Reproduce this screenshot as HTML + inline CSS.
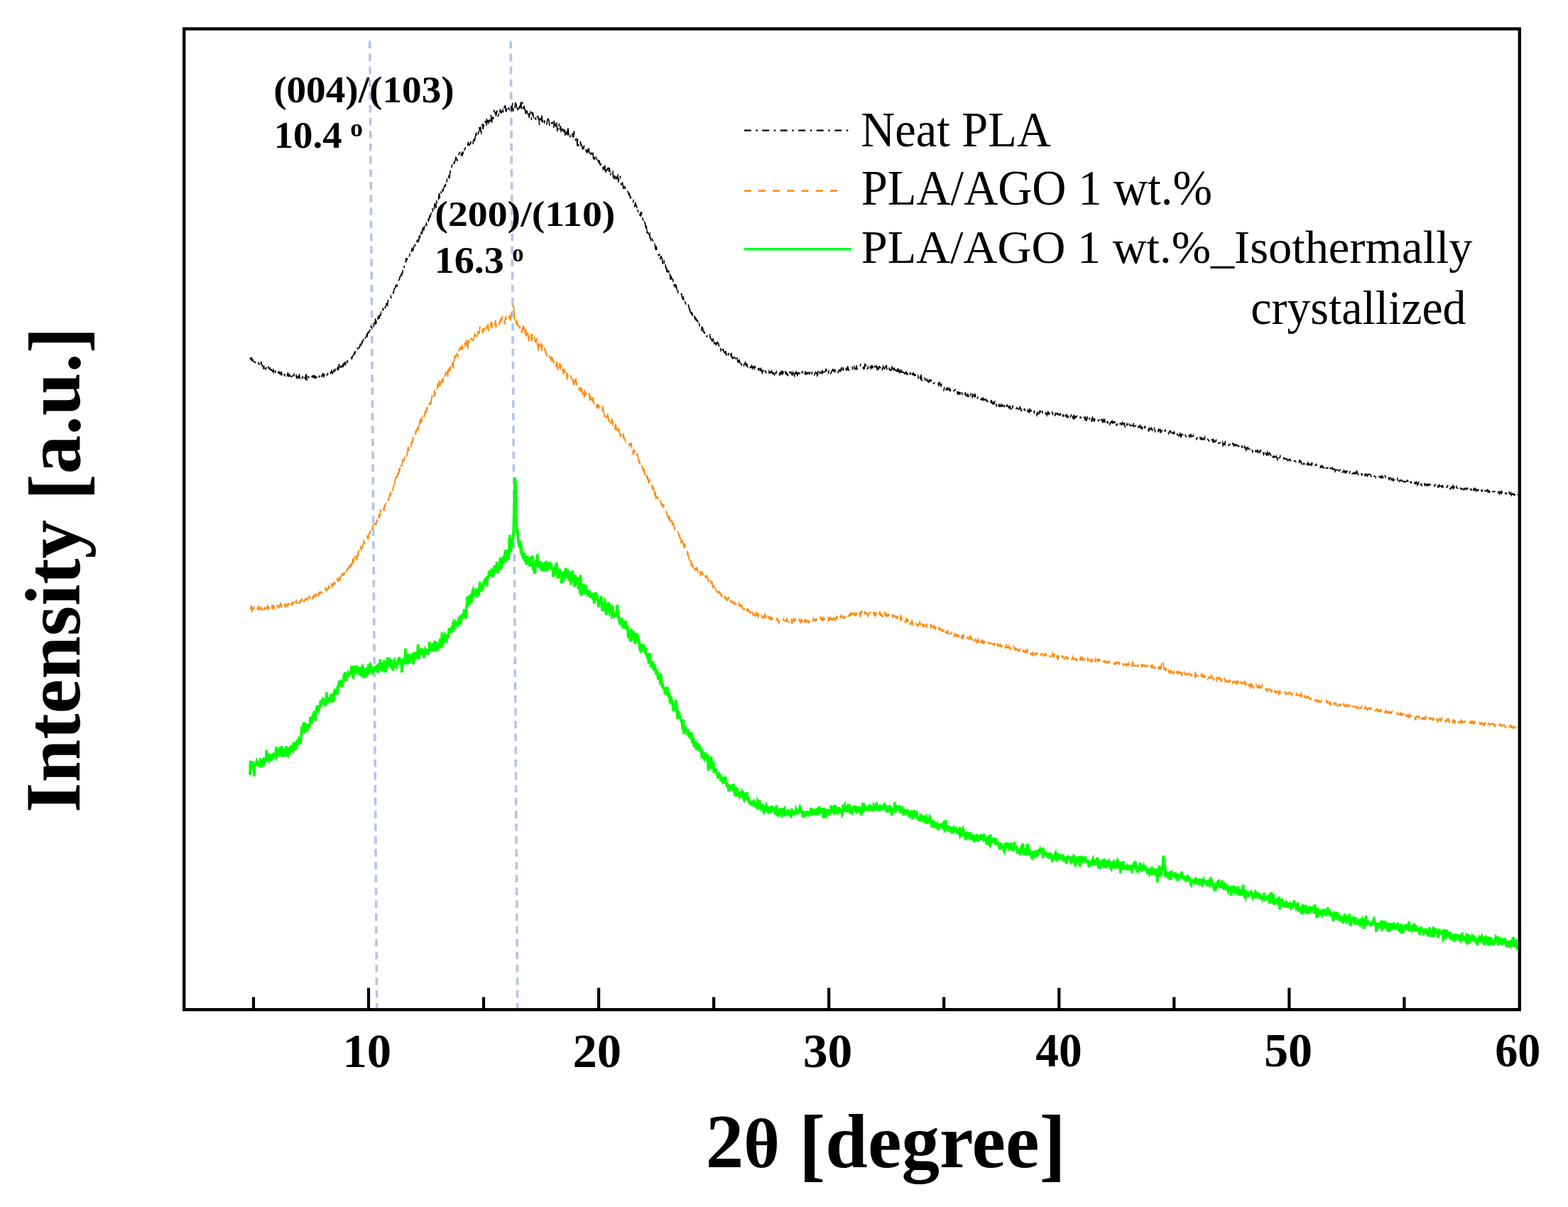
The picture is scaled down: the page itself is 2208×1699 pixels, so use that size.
<!DOCTYPE html>
<html><head><meta charset="utf-8"><style>html,body{margin:0;padding:0;background:#fff;overflow:hidden;width:2208px;height:1699px;}svg{display:block;}</style></head>
<body><svg width="2208" height="1699" viewBox="0 0 2208 1699">
<rect x="0" y="0" width="2208" height="1699" fill="#fff"/>
<g stroke="#b2c5ec" stroke-width="3.6" stroke-dasharray="10.5 7.56" fill="none">
<line x1="520.7" y1="57.6" x2="530.7" y2="1420"/>
<line x1="719.2" y1="57.6" x2="728.7" y2="1420"/>
</g>
<path d="M352.0 1090.7L352.6 1070.8L353.3 1083.2L353.9 1078.7L354.6 1078.8L355.2 1079.5L355.9 1071.4L356.5 1078.7L357.2 1075.6L357.8 1093.0L358.5 1079.4L359.1 1076.5L359.8 1076.3L360.4 1074.2L361.1 1072.1L361.7 1074.5L362.4 1077.7L363.0 1074.2L363.7 1078.9L364.3 1073.4L365.0 1074.0L365.6 1080.1L366.3 1075.4L366.9 1070.4L367.6 1071.5L368.2 1074.2L368.9 1079.9L369.5 1070.0L370.2 1069.7L370.8 1074.8L371.5 1066.3L372.1 1068.5L372.8 1073.2L373.4 1071.6L374.1 1069.2L374.7 1071.3L375.4 1055.9L376.0 1072.2L376.7 1063.3L377.3 1059.9L378.0 1068.1L378.6 1069.6L379.3 1064.3L379.9 1061.3L380.6 1065.8L381.2 1065.1L381.9 1071.2L382.5 1068.1L383.2 1065.4L383.8 1069.1L384.5 1063.1L385.1 1059.7L385.8 1066.0L386.4 1065.7L387.1 1061.9L387.7 1059.2L388.4 1063.4L389.0 1051.2L389.7 1064.9L390.3 1063.7L391.0 1054.2L391.6 1061.4L392.3 1056.6L392.9 1063.9L393.6 1051.5L394.2 1056.2L394.9 1063.0L395.5 1064.8L396.2 1050.1L396.8 1057.1L397.5 1060.6L398.1 1056.3L398.8 1065.8L399.4 1053.4L400.1 1060.0L400.7 1053.7L401.4 1064.3L402.0 1057.9L402.7 1056.2L403.3 1050.1L404.0 1064.9L404.6 1060.6L405.3 1060.4L405.9 1061.9L406.6 1058.2L407.2 1053.6L407.9 1052.6L408.5 1052.3L409.2 1061.6L409.8 1048.8L410.5 1052.2L411.1 1053.0L411.8 1054.9L412.4 1056.0L413.1 1047.4L413.7 1044.7L414.4 1051.7L415.0 1056.4L415.7 1053.7L416.3 1050.6L417.0 1047.5L417.6 1049.3L418.3 1045.7L418.9 1049.2L419.6 1040.5L420.2 1043.1L420.9 1040.4L421.5 1041.8L422.2 1038.7L422.8 1047.6L423.5 1041.3L424.1 1039.9L424.8 1022.5L425.4 1029.1L426.1 1026.8L426.7 1031.1L427.4 1017.2L428.0 1032.1L428.7 1030.7L429.3 1019.0L430.0 1019.6L430.6 1019.6L431.3 1022.7L431.9 1024.6L432.6 1030.3L433.2 1019.1L433.9 1022.7L434.5 1019.0L435.2 1025.6L435.8 1020.0L436.5 1021.9L437.1 1009.6L437.8 1012.7L438.4 1008.7L439.1 1018.5L439.7 1013.5L440.4 1007.9L441.0 1006.2L441.7 1009.5L442.3 1002.9L443.0 1000.7L443.6 1006.4L444.3 1014.7L444.9 1001.0L445.6 998.6L446.2 994.7L446.9 993.0L447.5 1001.0L448.2 1001.6L448.8 996.7L449.5 997.4L450.1 995.5L450.8 994.7L451.4 985.9L452.1 990.2L452.7 992.1L453.4 987.1L454.0 987.8L454.7 985.4L455.3 987.0L456.0 992.0L456.6 985.3L457.3 985.9L457.9 990.0L458.6 988.6L459.2 993.1L459.9 974.3L460.5 988.1L461.2 981.1L461.8 983.7L462.5 986.6L463.1 987.4L463.8 986.7L464.4 982.0L465.1 988.6L465.7 978.9L466.4 979.1L467.0 983.2L467.7 976.1L468.3 988.8L469.0 982.6L469.6 987.7L470.3 976.3L470.9 973.8L471.6 975.7L472.2 977.6L472.9 970.2L473.5 974.0L474.2 971.0L474.8 977.9L475.5 965.6L476.1 973.0L476.8 963.5L477.4 960.8L478.1 961.0L478.7 957.6L479.4 963.2L480.0 966.7L480.7 961.5L481.3 963.0L482.0 967.3L482.6 959.8L483.3 958.7L483.9 955.6L484.6 948.2L485.2 959.4L485.9 946.1L486.5 957.5L487.2 953.6L487.8 958.7L488.5 952.1L489.1 947.7L489.8 953.1L490.4 948.0L491.1 949.4L491.7 950.1L492.4 948.8L493.0 948.1L493.7 944.5L494.3 947.5L495.0 937.4L495.6 947.1L496.3 941.6L496.9 953.0L497.6 953.6L498.2 937.0L498.9 947.4L499.5 945.8L500.2 941.0L500.8 948.8L501.5 943.5L502.1 936.7L502.8 944.2L503.4 944.6L504.1 945.7L504.7 938.8L505.4 948.0L506.0 948.4L506.7 938.7L507.3 941.0L508.0 943.8L508.6 941.1L509.3 952.7L509.9 944.7L510.6 938.4L511.2 939.3L511.9 942.9L512.5 954.6L513.2 941.9L513.8 943.2L514.5 945.0L515.1 942.0L515.8 953.6L516.4 939.0L517.1 945.3L517.7 942.1L518.4 944.3L519.0 934.9L519.7 949.7L520.3 939.9L521.0 940.5L521.6 935.3L522.3 936.2L522.9 942.6L523.6 944.6L524.2 943.2L524.9 945.3L525.5 942.6L526.2 939.0L526.8 942.9L527.5 941.5L528.1 937.9L528.8 942.0L529.4 944.7L530.1 939.2L530.7 936.1L531.4 941.5L532.0 947.4L532.7 936.6L533.3 937.1L534.0 936.8L534.6 943.7L535.3 928.0L535.9 939.2L536.6 943.4L537.2 933.1L537.9 944.9L538.5 940.0L539.2 934.4L539.8 938.2L540.5 929.3L541.1 934.2L541.8 946.4L542.4 932.4L543.1 946.4L543.7 936.5L544.4 942.0L545.0 937.1L545.7 925.4L546.3 933.9L547.0 937.8L547.6 930.9L548.3 929.8L548.9 938.5L549.6 933.3L550.2 927.9L550.9 933.0L551.5 940.9L552.2 934.0L552.8 941.1L553.5 944.0L554.1 936.3L554.8 930.2L555.4 929.2L556.1 935.6L556.7 940.0L557.4 936.7L558.0 937.9L558.7 932.6L559.3 936.2L560.0 931.9L560.6 932.4L561.3 927.2L561.9 925.4L562.6 930.7L563.2 927.2L563.9 927.6L564.5 935.7L565.2 931.4L565.8 946.6L566.5 936.0L567.1 927.6L567.8 934.5L568.4 932.0L569.1 926.2L569.7 935.1L570.4 925.0L571.0 912.9L571.7 932.4L572.3 924.7L573.0 935.3L573.6 923.8L574.3 920.7L574.9 934.5L575.6 920.6L576.2 926.9L576.9 933.0L577.5 925.7L578.2 924.4L578.8 925.1L579.5 928.6L580.1 919.7L580.8 926.8L581.4 926.4L582.1 935.2L582.7 921.1L583.4 917.8L584.0 926.1L584.7 920.0L585.3 923.3L586.0 922.2L586.6 927.4L587.3 917.6L587.9 920.3L588.6 907.2L589.2 915.7L589.9 928.1L590.5 916.3L591.2 915.9L591.8 913.0L592.5 922.1L593.1 919.7L593.8 912.3L594.4 921.8L595.1 919.4L595.7 921.7L596.4 914.1L597.0 926.3L597.7 919.1L598.3 916.0L599.0 913.6L599.6 914.8L600.3 920.3L600.9 914.0L601.6 920.8L602.2 917.9L602.9 921.5L603.5 918.4L604.2 913.5L604.8 903.4L605.5 914.6L606.1 916.8L606.8 913.2L607.4 914.9L608.1 909.0L608.7 909.1L609.4 905.7L610.0 917.5L610.7 910.7L611.3 906.8L612.0 902.0L612.6 907.7L613.3 915.7L613.9 910.1L614.6 903.3L615.2 914.3L615.9 913.8L616.5 910.9L617.2 909.4L617.8 910.9L618.5 907.1L619.1 907.8L619.8 899.1L620.4 910.7L621.1 903.4L621.7 912.4L622.4 890.2L623.0 904.3L623.7 905.2L624.3 897.6L625.0 901.2L625.6 902.3L626.3 900.8L626.9 894.2L627.6 895.7L628.2 901.4L628.9 902.1L629.5 895.2L630.2 894.4L630.8 894.5L631.5 898.3L632.1 886.4L632.8 884.2L633.4 891.3L634.1 884.0L634.7 886.0L635.4 888.9L636.0 890.3L636.7 881.2L637.3 890.5L638.0 875.8L638.6 887.6L639.3 875.2L639.9 876.1L640.6 885.7L641.2 879.1L641.9 876.1L642.5 877.2L643.2 881.3L643.8 877.6L644.5 876.8L645.1 881.8L645.8 871.2L646.4 871.6L647.1 870.3L647.7 878.6L648.4 876.5L649.0 877.0L649.7 868.6L650.3 866.8L651.0 871.2L651.6 863.1L652.3 868.6L652.9 866.8L653.6 857.6L654.2 859.8L654.9 858.3L655.5 867.4L656.2 870.9L656.8 854.6L657.5 853.9L658.1 839.7L658.8 852.5L659.4 850.0L660.1 842.7L660.7 852.0L661.4 837.5L662.0 844.0L662.7 844.8L663.3 835.8L664.0 846.7L664.6 846.7L665.3 831.8L665.9 830.6L666.6 841.1L667.2 836.6L667.9 828.9L668.5 833.3L669.2 833.5L669.8 832.4L670.5 837.1L671.1 833.7L671.8 840.9L672.4 837.8L673.1 833.0L673.7 834.5L674.4 835.1L675.0 830.8L675.7 818.8L676.3 830.1L677.0 824.8L677.6 833.0L678.3 823.3L678.9 825.1L679.6 823.2L680.2 830.3L680.9 820.7L681.5 817.4L682.2 819.9L682.8 814.8L683.5 817.5L684.1 815.7L684.8 816.6L685.4 825.4L686.1 811.0L686.7 812.8L687.4 810.6L688.0 815.0L688.7 803.3L689.3 805.4L690.0 808.5L690.6 811.2L691.3 806.9L691.9 803.5L692.6 800.5L693.2 807.9L693.9 812.7L694.5 805.3L695.2 803.8L695.8 804.6L696.5 795.7L697.1 798.7L697.8 798.3L698.4 801.0L699.1 798.4L699.7 790.7L700.4 804.0L701.0 806.8L701.7 794.5L702.3 797.9L703.0 796.5L703.6 798.9L704.3 784.8L704.9 802.6L705.6 789.4L706.2 799.1L706.9 791.2L707.5 787.6L708.2 788.3L708.8 793.6L709.5 782.2L710.1 784.2L710.8 782.6L711.4 774.2L712.1 791.4L712.7 786.1L713.4 781.4L714.0 787.6L714.7 773.7L715.3 778.0L716.0 787.8L716.6 782.1L717.3 761.3L717.9 753.2L718.6 765.9L719.2 777.5L719.9 767.2L720.5 767.9L721.2 771.5L721.8 759.4L722.5 759.2L723.1 748.8L723.8 724.6L724.4 698.0L725.1 672.3L725.7 676.4L726.4 685.9L727.0 721.2L727.7 751.8L728.3 746.3L729.0 744.8L729.6 758.3L730.3 764.1L730.9 768.7L731.6 770.3L732.2 760.9L732.9 763.4L733.5 778.7L734.2 766.9L734.8 782.3L735.5 775.8L736.1 783.4L736.8 784.5L737.4 786.4L738.1 788.0L738.7 778.3L739.4 787.1L740.0 786.3L740.7 788.7L741.3 794.9L742.0 786.4L742.6 784.3L743.3 784.7L743.9 787.6L744.6 794.4L745.2 785.4L745.9 797.6L746.5 792.8L747.2 790.0L747.8 783.7L748.5 793.4L749.1 796.4L749.8 781.9L750.4 799.8L751.1 802.8L751.7 795.1L752.4 796.2L753.0 807.9L753.7 801.0L754.3 788.4L755.0 793.8L755.6 793.1L756.3 793.2L756.9 780.1L757.6 798.9L758.2 790.6L758.9 795.5L759.5 793.8L760.2 800.0L760.8 793.1L761.5 790.2L762.1 798.2L762.8 803.6L763.4 793.4L764.1 803.6L764.7 797.1L765.4 792.5L766.0 805.0L766.7 791.2L767.3 802.3L768.0 793.5L768.6 799.4L769.3 789.6L769.9 792.3L770.6 803.9L771.2 799.0L771.9 798.5L772.5 796.0L773.2 801.6L773.8 791.0L774.5 793.0L775.1 799.1L775.8 795.5L776.4 796.7L777.1 800.8L777.7 800.7L778.4 800.6L779.0 812.1L779.7 808.6L780.3 810.2L781.0 803.1L781.6 800.5L782.3 795.2L782.9 801.9L783.6 791.9L784.2 801.0L784.9 809.1L785.5 814.4L786.2 810.7L786.8 800.1L787.5 808.2L788.1 800.8L788.8 810.5L789.4 805.1L790.1 811.0L790.7 821.3L791.4 811.7L792.0 820.2L792.7 807.7L793.3 804.9L794.0 814.9L794.6 817.4L795.3 804.1L795.9 808.1L796.6 799.4L797.2 807.0L797.9 813.7L798.5 808.3L799.2 805.8L799.8 801.3L800.5 812.2L801.1 815.2L801.8 814.6L802.4 813.1L803.1 804.7L803.7 823.2L804.4 813.1L805.0 813.3L805.7 819.1L806.3 802.8L807.0 815.8L807.6 816.0L808.3 819.7L808.9 826.1L809.6 821.6L810.2 808.9L810.9 818.2L811.5 822.0L812.2 822.3L812.8 814.6L813.5 812.9L814.1 826.3L814.8 825.6L815.4 824.1L816.1 814.7L816.7 835.5L817.4 809.0L818.0 824.2L818.7 838.9L819.3 826.4L820.0 829.2L820.6 821.5L821.3 836.7L821.9 821.9L822.6 831.3L823.2 831.1L823.9 824.8L824.5 836.5L825.2 823.7L825.8 828.4L826.5 832.7L827.1 831.0L827.8 836.6L828.4 839.7L829.1 833.3L829.7 832.4L830.4 833.0L831.0 834.4L831.7 841.7L832.3 836.3L833.0 840.4L833.6 838.1L834.3 834.3L834.9 844.6L835.6 834.3L836.2 840.7L836.9 849.7L837.5 835.5L838.2 842.0L838.8 833.8L839.5 840.4L840.1 835.4L840.8 842.3L841.4 841.8L842.1 846.2L842.7 854.9L843.4 848.1L844.0 850.7L844.7 847.2L845.3 846.6L846.0 843.8L846.6 838.9L847.3 849.9L847.9 859.3L848.6 853.3L849.2 848.1L849.9 860.9L850.5 849.7L851.2 849.1L851.8 846.3L852.5 848.2L853.1 852.8L853.8 865.9L854.4 854.0L855.1 849.9L855.7 852.8L856.4 855.5L857.0 847.7L857.7 858.5L858.3 862.3L859.0 860.7L859.6 862.8L860.3 852.8L860.9 851.1L861.6 868.3L862.2 867.7L862.9 853.6L863.5 863.8L864.2 863.4L864.8 866.8L865.5 865.5L866.1 862.1L866.8 866.5L867.4 866.8L868.1 866.2L868.7 856.8L869.4 851.1L870.0 863.9L870.7 859.8L871.3 870.9L872.0 874.1L872.6 872.2L873.3 869.4L873.9 872.5L874.6 879.3L875.2 869.6L875.9 879.4L876.5 879.1L877.2 877.5L877.8 885.0L878.5 874.1L879.1 884.1L879.8 874.9L880.4 876.9L881.1 876.3L881.7 885.6L882.4 879.1L883.0 885.5L883.7 880.1L884.3 893.1L885.0 898.2L885.6 890.4L886.3 899.0L886.9 894.0L887.6 903.4L888.2 893.1L888.9 884.8L889.5 902.0L890.2 894.0L890.8 889.8L891.5 892.6L892.1 888.0L892.8 896.5L893.4 892.4L894.1 906.7L894.7 903.1L895.4 891.4L896.0 892.9L896.7 898.7L897.3 892.2L898.0 902.6L898.6 903.8L899.3 900.6L899.9 902.6L900.6 908.9L901.2 914.6L901.9 915.8L902.5 908.9L903.2 914.1L903.8 906.5L904.5 913.5L905.1 907.2L905.8 917.0L906.4 907.6L907.1 910.1L907.7 916.2L908.4 920.3L909.0 911.1L909.7 917.0L910.3 921.8L911.0 923.5L911.6 919.2L912.3 925.3L912.9 924.6L913.6 934.4L914.2 931.2L914.9 922.6L915.5 919.3L916.2 932.3L916.8 939.0L917.5 935.0L918.1 939.8L918.8 933.9L919.4 930.6L920.1 942.6L920.7 940.4L921.4 944.5L922.0 935.2L922.7 944.3L923.3 941.4L924.0 949.8L924.6 943.9L925.3 945.0L925.9 946.2L926.6 956.7L927.2 951.7L927.9 948.9L928.5 948.8L929.2 949.9L929.8 963.6L930.5 948.5L931.1 954.5L931.8 963.1L932.4 967.0L933.1 961.6L933.7 967.5L934.4 968.6L935.0 970.9L935.7 967.5L936.3 976.7L937.0 970.8L937.6 978.6L938.3 966.9L938.9 978.2L939.6 968.7L940.2 968.8L940.9 979.8L941.5 974.6L942.2 982.1L942.8 976.0L943.5 990.2L944.1 983.7L944.8 979.5L945.4 987.1L946.1 991.8L946.7 985.1L947.4 992.6L948.0 1001.2L948.7 996.9L949.3 994.0L950.0 992.7L950.6 999.5L951.3 990.9L951.9 985.0L952.6 997.6L953.2 997.0L953.9 1011.8L954.5 1005.5L955.2 1001.6L955.8 1002.1L956.5 1011.3L957.1 1006.4L957.8 1008.8L958.4 1012.4L959.1 1014.6L959.7 1015.9L960.4 1017.2L961.0 1023.9L961.7 1027.0L962.3 1012.6L963.0 1033.3L963.6 1023.1L964.3 1029.3L964.9 1021.3L965.6 1027.2L966.2 1027.8L966.9 1028.3L967.5 1032.7L968.2 1032.7L968.8 1026.3L969.5 1031.3L970.1 1036.1L970.8 1036.9L971.4 1033.2L972.1 1034.4L972.7 1035.9L973.4 1032.5L974.0 1032.6L974.7 1046.4L975.3 1038.5L976.0 1041.6L976.6 1038.8L977.3 1048.9L977.9 1051.8L978.6 1043.9L979.2 1048.2L979.9 1043.4L980.5 1055.6L981.2 1052.8L981.8 1045.9L982.5 1056.1L983.1 1053.0L983.8 1054.2L984.4 1054.9L985.1 1051.2L985.7 1052.7L986.4 1058.8L987.0 1056.7L987.7 1053.7L988.3 1067.7L989.0 1058.7L989.6 1058.1L990.3 1058.4L990.9 1065.4L991.6 1067.5L992.2 1065.2L992.9 1068.8L993.5 1059.4L994.2 1065.2L994.8 1065.7L995.5 1068.7L996.1 1071.7L996.8 1061.7L997.4 1084.9L998.1 1068.6L998.7 1074.7L999.4 1077.7L1000.0 1078.8L1000.7 1077.1L1001.3 1064.6L1002.0 1073.3L1002.6 1082.1L1003.3 1075.9L1003.9 1076.3L1004.6 1071.7L1005.2 1087.8L1005.9 1085.8L1006.5 1080.7L1007.2 1084.9L1007.8 1085.9L1008.5 1082.5L1009.1 1086.9L1009.8 1090.0L1010.4 1092.1L1011.1 1095.9L1011.7 1091.6L1012.4 1090.3L1013.0 1094.7L1013.7 1091.1L1014.3 1089.3L1015.0 1100.0L1015.6 1094.4L1016.3 1097.2L1016.9 1100.2L1017.6 1093.6L1018.2 1101.6L1018.9 1101.5L1019.5 1099.9L1020.2 1102.7L1020.8 1098.6L1021.5 1093.3L1022.1 1101.9L1022.8 1100.0L1023.4 1107.9L1024.1 1106.1L1024.7 1103.4L1025.4 1106.4L1026.0 1112.3L1026.7 1112.0L1027.3 1109.4L1028.0 1110.2L1028.6 1107.9L1029.3 1109.0L1029.9 1112.4L1030.6 1110.0L1031.2 1112.2L1031.9 1106.8L1032.5 1105.0L1033.2 1105.3L1033.8 1110.9L1034.5 1118.4L1035.1 1118.2L1035.8 1109.8L1036.4 1107.9L1037.1 1117.8L1037.7 1116.8L1038.4 1109.7L1039.0 1119.9L1039.7 1116.7L1040.3 1121.7L1041.0 1118.1L1041.6 1120.6L1042.3 1118.7L1042.9 1113.9L1043.6 1117.2L1044.2 1115.8L1044.9 1122.2L1045.5 1115.3L1046.2 1113.5L1046.8 1122.9L1047.5 1125.2L1048.1 1126.8L1048.8 1125.8L1049.4 1115.9L1050.1 1119.6L1050.7 1120.7L1051.4 1123.3L1052.0 1115.2L1052.7 1124.3L1053.3 1125.9L1054.0 1121.5L1054.6 1126.3L1055.3 1131.1L1055.9 1127.0L1056.6 1131.5L1057.2 1131.8L1057.9 1129.9L1058.5 1130.2L1059.2 1127.7L1059.8 1134.5L1060.5 1128.1L1061.1 1127.6L1061.8 1133.6L1062.4 1128.3L1063.1 1133.2L1063.7 1136.0L1064.4 1132.5L1065.0 1132.9L1065.7 1136.4L1066.3 1136.1L1067.0 1127.3L1067.6 1128.5L1068.3 1139.2L1068.9 1135.8L1069.6 1126.4L1070.2 1129.6L1070.9 1135.2L1071.5 1131.6L1072.2 1137.5L1072.8 1136.2L1073.5 1138.1L1074.1 1131.8L1074.8 1139.1L1075.4 1144.6L1076.1 1134.0L1076.7 1142.5L1077.4 1141.4L1078.0 1140.3L1078.7 1137.7L1079.3 1133.6L1080.0 1134.9L1080.6 1141.5L1081.3 1142.5L1081.9 1143.6L1082.6 1142.8L1083.2 1142.7L1083.9 1137.7L1084.5 1134.9L1085.2 1140.6L1085.8 1141.9L1086.5 1140.5L1087.1 1134.4L1087.8 1138.5L1088.4 1134.9L1089.1 1141.4L1089.7 1136.9L1090.4 1140.5L1091.0 1142.6L1091.7 1142.0L1092.3 1147.0L1093.0 1137.5L1093.6 1133.4L1094.3 1145.7L1094.9 1147.7L1095.6 1147.9L1096.2 1143.6L1096.9 1144.7L1097.5 1143.2L1098.2 1137.8L1098.8 1140.7L1099.5 1144.9L1100.1 1140.8L1100.8 1150.5L1101.4 1137.2L1102.1 1141.5L1102.7 1147.6L1103.4 1140.9L1104.0 1138.9L1104.7 1138.0L1105.3 1140.5L1106.0 1149.2L1106.6 1144.9L1107.3 1145.3L1107.9 1141.3L1108.6 1146.6L1109.2 1143.7L1109.9 1139.8L1110.5 1141.6L1111.2 1144.1L1111.8 1147.9L1112.5 1143.1L1113.1 1145.3L1113.8 1151.2L1114.4 1140.2L1115.1 1138.5L1115.7 1147.1L1116.4 1145.0L1117.0 1143.0L1117.7 1144.4L1118.3 1142.1L1119.0 1145.3L1119.6 1142.0L1120.3 1146.4L1120.9 1138.8L1121.6 1140.2L1122.2 1143.8L1122.9 1141.5L1123.5 1146.0L1124.2 1143.2L1124.8 1141.2L1125.5 1144.2L1126.1 1141.3L1126.8 1137.3L1127.4 1138.9L1128.1 1140.2L1128.7 1141.5L1129.4 1143.7L1130.0 1146.9L1130.7 1145.5L1131.3 1150.3L1132.0 1148.3L1132.6 1142.6L1133.3 1149.8L1133.9 1148.0L1134.6 1141.6L1135.2 1144.6L1135.9 1147.6L1136.5 1144.3L1137.2 1147.3L1137.8 1144.9L1138.5 1146.1L1139.1 1142.1L1139.8 1144.9L1140.4 1142.0L1141.1 1146.0L1141.7 1136.8L1142.4 1144.7L1143.0 1148.2L1143.7 1145.6L1144.3 1143.3L1145.0 1145.5L1145.6 1140.1L1146.3 1140.2L1146.9 1142.0L1147.6 1142.8L1148.2 1147.1L1148.9 1139.9L1149.5 1147.3L1150.2 1137.3L1150.8 1140.3L1151.5 1143.2L1152.1 1147.8L1152.8 1140.9L1153.4 1135.0L1154.1 1144.9L1154.7 1143.1L1155.4 1139.0L1156.0 1139.1L1156.7 1140.4L1157.3 1143.4L1158.0 1145.5L1158.6 1137.2L1159.3 1151.7L1159.9 1142.6L1160.6 1141.3L1161.2 1145.2L1161.9 1143.0L1162.5 1151.6L1163.2 1146.7L1163.8 1140.9L1164.5 1140.7L1165.1 1140.2L1165.8 1140.7L1166.4 1144.6L1167.1 1139.4L1167.7 1148.1L1168.4 1141.4L1169.0 1141.0L1169.7 1145.2L1170.3 1133.7L1171.0 1137.7L1171.6 1143.6L1172.3 1141.2L1172.9 1141.0L1173.6 1142.6L1174.2 1138.6L1174.9 1140.2L1175.5 1135.5L1176.2 1133.4L1176.8 1145.6L1177.5 1136.9L1178.1 1137.7L1178.8 1145.9L1179.4 1144.5L1180.1 1138.2L1180.7 1138.1L1181.4 1139.8L1182.0 1136.3L1182.7 1142.1L1183.3 1140.4L1184.0 1140.3L1184.6 1142.6L1185.3 1142.4L1185.9 1146.7L1186.6 1145.4L1187.2 1132.7L1187.9 1142.8L1188.5 1134.8L1189.2 1133.5L1189.8 1141.8L1190.5 1136.2L1191.1 1137.6L1191.8 1143.0L1192.4 1136.1L1193.1 1135.1L1193.7 1139.8L1194.4 1143.3L1195.0 1140.5L1195.7 1132.3L1196.3 1135.7L1197.0 1137.6L1197.6 1145.7L1198.3 1141.6L1198.9 1141.4L1199.6 1142.7L1200.2 1136.8L1200.9 1139.8L1201.5 1139.8L1202.2 1134.1L1202.8 1137.8L1203.5 1140.1L1204.1 1133.6L1204.8 1141.0L1205.4 1140.8L1206.1 1141.9L1206.7 1134.8L1207.4 1138.3L1208.0 1143.5L1208.7 1141.0L1209.3 1134.8L1210.0 1138.7L1210.6 1143.4L1211.3 1137.5L1211.9 1139.3L1212.6 1147.9L1213.2 1137.7L1213.9 1137.4L1214.5 1133.9L1215.2 1135.3L1215.8 1143.7L1216.5 1137.3L1217.1 1133.2L1217.8 1134.2L1218.4 1137.9L1219.1 1140.8L1219.7 1134.9L1220.4 1140.6L1221.0 1135.9L1221.7 1139.2L1222.3 1139.8L1223.0 1140.2L1223.6 1136.1L1224.3 1137.1L1224.9 1139.8L1225.6 1132.7L1226.2 1138.4L1226.9 1139.8L1227.5 1141.8L1228.2 1137.6L1228.8 1137.0L1229.5 1138.3L1230.1 1134.9L1230.8 1136.9L1231.4 1139.3L1232.1 1138.8L1232.7 1133.6L1233.4 1136.4L1234.0 1129.4L1234.7 1140.8L1235.3 1135.6L1236.0 1138.6L1236.6 1133.4L1237.3 1137.4L1237.9 1139.5L1238.6 1141.6L1239.2 1132.4L1239.9 1141.0L1240.5 1137.1L1241.2 1134.7L1241.8 1139.6L1242.5 1136.6L1243.1 1136.6L1243.8 1135.1L1244.4 1138.7L1245.1 1138.0L1245.7 1137.2L1246.4 1134.1L1247.0 1135.9L1247.7 1139.5L1248.3 1143.0L1249.0 1137.9L1249.6 1143.5L1250.3 1138.0L1250.9 1133.8L1251.6 1140.6L1252.2 1134.3L1252.9 1139.7L1253.5 1142.4L1254.2 1137.0L1254.8 1137.9L1255.5 1147.9L1256.1 1139.2L1256.8 1139.4L1257.4 1141.4L1258.1 1138.0L1258.7 1138.1L1259.4 1140.0L1260.0 1129.2L1260.7 1144.1L1261.3 1134.5L1262.0 1134.5L1262.6 1140.9L1263.3 1139.0L1263.9 1134.2L1264.6 1140.0L1265.2 1134.9L1265.9 1136.8L1266.5 1133.8L1267.2 1136.6L1267.8 1141.6L1268.5 1140.7L1269.1 1141.6L1269.8 1144.2L1270.4 1140.7L1271.1 1138.5L1271.7 1140.3L1272.4 1148.0L1273.0 1142.0L1273.7 1143.3L1274.3 1142.0L1275.0 1143.6L1275.6 1144.6L1276.3 1143.1L1276.9 1142.8L1277.6 1140.7L1278.2 1140.7L1278.9 1145.8L1279.5 1147.4L1280.2 1148.4L1280.8 1145.3L1281.5 1142.2L1282.1 1148.1L1282.8 1148.3L1283.4 1140.4L1284.1 1149.5L1284.7 1149.0L1285.4 1153.4L1286.0 1142.9L1286.7 1142.5L1287.3 1150.7L1288.0 1141.1L1288.6 1145.4L1289.3 1144.3L1289.9 1144.8L1290.6 1141.6L1291.2 1148.3L1291.9 1153.2L1292.5 1151.4L1293.2 1151.7L1293.8 1148.9L1294.5 1156.1L1295.1 1152.8L1295.8 1155.1L1296.4 1145.4L1297.1 1153.0L1297.7 1147.5L1298.4 1153.5L1299.0 1153.2L1299.7 1148.5L1300.3 1153.7L1301.0 1157.7L1301.6 1155.5L1302.3 1156.1L1302.9 1150.9L1303.6 1151.8L1304.2 1150.5L1304.9 1155.5L1305.5 1159.8L1306.2 1157.2L1306.8 1155.8L1307.5 1151.8L1308.1 1158.0L1308.8 1155.7L1309.4 1149.6L1310.1 1150.5L1310.7 1156.0L1311.4 1154.2L1312.0 1164.1L1312.7 1158.2L1313.3 1154.4L1314.0 1156.7L1314.6 1164.8L1315.3 1155.4L1315.9 1162.1L1316.6 1161.1L1317.2 1165.2L1317.9 1161.8L1318.5 1158.5L1319.2 1162.2L1319.8 1160.7L1320.5 1164.3L1321.1 1160.6L1321.8 1168.5L1322.4 1160.9L1323.1 1163.1L1323.7 1159.2L1324.4 1162.3L1325.0 1162.1L1325.7 1162.8L1326.3 1165.7L1327.0 1160.5L1327.6 1159.6L1328.3 1167.1L1328.9 1162.0L1329.6 1160.8L1330.2 1167.8L1330.9 1166.6L1331.5 1153.9L1332.2 1162.6L1332.8 1167.1L1333.5 1167.5L1334.1 1162.7L1334.8 1170.6L1335.4 1162.0L1336.1 1164.3L1336.7 1165.8L1337.4 1165.5L1338.0 1168.7L1338.7 1169.7L1339.3 1166.0L1340.0 1171.5L1340.6 1164.0L1341.3 1166.0L1341.9 1173.4L1342.6 1167.6L1343.2 1171.4L1343.9 1166.0L1344.5 1166.9L1345.2 1167.7L1345.8 1169.0L1346.5 1167.3L1347.1 1168.9L1347.8 1171.5L1348.4 1173.8L1349.1 1169.9L1349.7 1172.2L1350.4 1173.4L1351.0 1166.3L1351.7 1164.7L1352.3 1176.8L1353.0 1175.9L1353.6 1171.5L1354.3 1172.9L1354.9 1168.3L1355.6 1167.0L1356.2 1173.5L1356.9 1167.1L1357.5 1176.2L1358.2 1170.6L1358.8 1174.4L1359.5 1180.7L1360.1 1180.8L1360.8 1173.1L1361.4 1178.3L1362.1 1170.8L1362.7 1172.6L1363.4 1176.4L1364.0 1180.4L1364.7 1173.4L1365.3 1177.7L1366.0 1176.3L1366.6 1171.5L1367.3 1175.9L1367.9 1182.1L1368.6 1176.5L1369.2 1178.9L1369.9 1180.3L1370.5 1174.7L1371.2 1182.2L1371.8 1183.4L1372.5 1183.9L1373.1 1183.0L1373.8 1176.7L1374.4 1176.4L1375.1 1175.8L1375.7 1175.6L1376.4 1176.2L1377.0 1182.9L1377.7 1184.8L1378.3 1177.2L1379.0 1182.8L1379.6 1175.3L1380.3 1178.9L1380.9 1176.6L1381.6 1174.4L1382.2 1180.8L1382.9 1181.0L1383.5 1179.4L1384.2 1179.1L1384.8 1177.6L1385.5 1180.9L1386.1 1179.3L1386.8 1182.6L1387.4 1177.4L1388.1 1182.9L1388.7 1184.1L1389.4 1186.9L1390.0 1186.4L1390.7 1183.4L1391.3 1180.3L1392.0 1176.3L1392.6 1183.2L1393.3 1188.6L1393.9 1189.6L1394.6 1174.3L1395.2 1181.1L1395.9 1182.7L1396.5 1180.4L1397.2 1185.1L1397.8 1184.7L1398.5 1182.9L1399.1 1184.8L1399.8 1179.3L1400.4 1181.7L1401.1 1182.2L1401.7 1189.0L1402.4 1179.9L1403.0 1185.3L1403.7 1189.2L1404.3 1186.3L1405.0 1189.7L1405.6 1184.5L1406.3 1188.7L1406.9 1190.7L1407.6 1195.8L1408.2 1190.4L1408.9 1193.2L1409.5 1188.2L1410.2 1188.7L1410.8 1194.4L1411.5 1190.9L1412.1 1194.2L1412.8 1191.8L1413.4 1197.2L1414.1 1198.4L1414.7 1186.7L1415.4 1196.9L1416.0 1191.8L1416.7 1192.2L1417.3 1190.2L1418.0 1193.4L1418.6 1186.9L1419.3 1188.5L1419.9 1188.5L1420.6 1192.6L1421.2 1195.2L1421.9 1194.7L1422.5 1193.5L1423.2 1190.1L1423.8 1186.0L1424.5 1194.1L1425.1 1193.4L1425.8 1194.3L1426.4 1198.4L1427.1 1192.7L1427.7 1192.7L1428.4 1185.1L1429.0 1195.9L1429.7 1193.8L1430.3 1191.4L1431.0 1195.7L1431.6 1190.6L1432.3 1192.6L1432.9 1202.0L1433.6 1197.7L1434.2 1198.5L1434.9 1198.0L1435.5 1197.8L1436.2 1196.3L1436.8 1204.1L1437.5 1195.6L1438.1 1198.7L1438.8 1195.3L1439.4 1195.0L1440.1 1187.4L1440.7 1189.5L1441.4 1202.4L1442.0 1202.4L1442.7 1195.4L1443.3 1197.0L1444.0 1199.6L1444.6 1193.8L1445.3 1204.1L1445.9 1193.9L1446.6 1195.2L1447.2 1187.8L1447.9 1203.7L1448.5 1198.5L1449.2 1204.4L1449.8 1194.8L1450.5 1199.9L1451.1 1199.1L1451.8 1199.7L1452.4 1206.8L1453.1 1207.6L1453.7 1204.5L1454.4 1198.0L1455.0 1203.0L1455.7 1204.8L1456.3 1202.0L1457.0 1202.2L1457.6 1202.0L1458.3 1197.0L1458.9 1201.4L1459.6 1206.5L1460.2 1197.0L1460.9 1201.1L1461.5 1204.1L1462.2 1196.1L1462.8 1200.7L1463.5 1195.1L1464.1 1199.2L1464.8 1196.4L1465.4 1198.4L1466.1 1200.0L1466.7 1201.0L1467.4 1201.4L1468.0 1193.3L1468.7 1208.2L1469.3 1201.5L1470.0 1198.5L1470.6 1200.4L1471.3 1204.0L1471.9 1199.3L1472.6 1201.6L1473.2 1201.5L1473.9 1205.4L1474.5 1200.7L1475.2 1205.3L1475.8 1205.0L1476.5 1203.3L1477.1 1208.6L1477.8 1204.2L1478.4 1199.9L1479.1 1205.5L1479.7 1205.0L1480.4 1204.5L1481.0 1205.6L1481.7 1213.6L1482.3 1205.9L1483.0 1206.9L1483.6 1204.4L1484.3 1210.3L1484.9 1205.4L1485.6 1202.7L1486.2 1201.3L1486.9 1207.9L1487.5 1208.9L1488.2 1200.4L1488.8 1203.7L1489.5 1208.9L1490.1 1210.5L1490.8 1201.9L1491.4 1205.4L1492.1 1210.2L1492.7 1205.2L1493.4 1205.7L1494.0 1205.5L1494.7 1202.8L1495.3 1207.9L1496.0 1209.0L1496.6 1202.8L1497.3 1208.5L1497.9 1212.4L1498.6 1209.2L1499.2 1212.0L1499.9 1206.6L1500.5 1213.9L1501.2 1206.0L1501.8 1216.0L1502.5 1207.5L1503.1 1206.6L1503.8 1206.1L1504.4 1208.0L1505.1 1207.8L1505.7 1207.2L1506.4 1208.7L1507.0 1212.4L1507.7 1213.4L1508.3 1209.0L1509.0 1214.9L1509.6 1206.7L1510.3 1206.7L1510.9 1206.5L1511.6 1213.0L1512.2 1205.1L1512.9 1205.8L1513.5 1215.8L1514.2 1217.5L1514.8 1216.2L1515.5 1205.8L1516.1 1211.5L1516.8 1214.6L1517.4 1212.0L1518.1 1205.7L1518.7 1210.5L1519.4 1205.6L1520.0 1207.4L1520.7 1220.0L1521.3 1214.7L1522.0 1206.8L1522.6 1206.7L1523.3 1214.0L1523.9 1210.2L1524.6 1214.6L1525.2 1210.2L1525.9 1211.9L1526.5 1213.6L1527.2 1208.9L1527.8 1205.7L1528.5 1208.5L1529.1 1210.4L1529.8 1212.3L1530.4 1212.8L1531.1 1212.9L1531.7 1215.1L1532.4 1209.9L1533.0 1218.5L1533.7 1220.8L1534.3 1214.8L1535.0 1214.2L1535.6 1218.1L1536.3 1216.0L1536.9 1214.3L1537.6 1213.1L1538.2 1211.0L1538.9 1209.5L1539.5 1216.3L1540.2 1218.3L1540.8 1210.1L1541.5 1213.8L1542.1 1214.9L1542.8 1212.6L1543.4 1211.4L1544.1 1212.8L1544.7 1207.1L1545.4 1214.2L1546.0 1213.4L1546.7 1222.4L1547.3 1218.1L1548.0 1213.4L1548.6 1214.7L1549.3 1221.2L1549.9 1220.8L1550.6 1215.7L1551.2 1214.6L1551.9 1209.8L1552.5 1214.0L1553.2 1214.7L1553.8 1212.7L1554.5 1221.9L1555.1 1208.6L1555.8 1215.1L1556.4 1217.2L1557.1 1217.4L1557.7 1222.2L1558.4 1210.8L1559.0 1213.3L1559.7 1216.6L1560.3 1216.8L1561.0 1215.0L1561.6 1213.7L1562.3 1220.5L1562.9 1212.8L1563.6 1214.7L1564.2 1222.2L1564.9 1223.4L1565.5 1220.3L1566.2 1214.0L1566.8 1214.1L1567.5 1214.1L1568.1 1213.3L1568.8 1216.1L1569.4 1222.4L1570.1 1218.6L1570.7 1215.1L1571.4 1215.1L1572.0 1213.8L1572.7 1222.7L1573.3 1210.8L1574.0 1219.4L1574.6 1213.2L1575.3 1214.7L1575.9 1213.2L1576.6 1222.4L1577.2 1218.6L1577.9 1229.2L1578.5 1215.3L1579.2 1215.2L1579.8 1221.5L1580.5 1221.5L1581.1 1218.5L1581.8 1212.1L1582.4 1225.0L1583.1 1221.9L1583.7 1221.4L1584.4 1217.8L1585.0 1222.4L1585.7 1218.1L1586.3 1220.4L1587.0 1219.6L1587.6 1225.1L1588.3 1218.8L1588.9 1219.3L1589.6 1224.8L1590.2 1221.6L1590.9 1220.8L1591.5 1220.1L1592.2 1224.6L1592.8 1218.8L1593.5 1223.0L1594.1 1228.9L1594.8 1222.9L1595.4 1218.6L1596.1 1217.2L1596.7 1222.2L1597.4 1217.3L1598.0 1216.0L1598.7 1219.2L1599.3 1218.0L1600.0 1225.4L1600.6 1216.9L1601.3 1228.2L1601.9 1219.7L1602.6 1223.0L1603.2 1225.1L1603.9 1223.6L1604.5 1225.5L1605.2 1219.3L1605.8 1214.6L1606.5 1222.4L1607.1 1217.0L1607.8 1221.2L1608.4 1226.9L1609.1 1222.8L1609.7 1221.4L1610.4 1219.5L1611.0 1222.7L1611.7 1223.3L1612.3 1218.2L1613.0 1225.2L1613.6 1220.3L1614.3 1225.2L1614.9 1222.8L1615.6 1228.2L1616.2 1227.9L1616.9 1224.9L1617.5 1224.5L1618.2 1226.7L1618.8 1230.3L1619.5 1229.3L1620.1 1226.0L1620.8 1226.8L1621.4 1231.6L1622.1 1219.8L1622.7 1228.0L1623.4 1222.8L1624.0 1231.3L1624.7 1224.6L1625.3 1226.1L1626.0 1222.7L1626.6 1226.9L1627.3 1229.9L1627.9 1233.3L1628.6 1222.6L1629.2 1225.8L1629.9 1242.0L1630.5 1231.2L1631.2 1227.8L1631.8 1229.9L1632.5 1218.3L1633.1 1234.3L1633.8 1229.0L1634.4 1223.2L1635.1 1232.8L1635.7 1225.5L1636.4 1221.4L1637.0 1221.2L1637.7 1212.8L1638.3 1204.5L1639.0 1208.1L1639.6 1211.1L1640.3 1218.3L1640.9 1231.3L1641.6 1234.5L1642.2 1231.8L1642.9 1231.8L1643.5 1229.0L1644.2 1230.2L1644.8 1227.3L1645.5 1237.4L1646.1 1229.0L1646.8 1232.7L1647.4 1231.3L1648.1 1226.3L1648.7 1238.8L1649.4 1230.3L1650.0 1229.0L1650.7 1232.4L1651.3 1228.8L1652.0 1232.4L1652.6 1228.8L1653.3 1234.6L1653.9 1232.8L1654.6 1227.7L1655.2 1236.7L1655.9 1233.7L1656.5 1229.0L1657.2 1234.6L1657.8 1235.0L1658.5 1240.4L1659.1 1230.4L1659.8 1236.9L1660.4 1233.5L1661.1 1236.3L1661.7 1233.2L1662.4 1234.0L1663.0 1236.2L1663.7 1230.1L1664.3 1226.8L1665.0 1234.7L1665.6 1233.2L1666.3 1235.3L1666.9 1237.5L1667.6 1234.5L1668.2 1239.8L1668.9 1235.4L1669.5 1236.1L1670.2 1238.9L1670.8 1238.1L1671.5 1235.8L1672.1 1236.7L1672.8 1233.6L1673.4 1234.2L1674.1 1237.0L1674.7 1239.8L1675.4 1235.3L1676.0 1240.2L1676.7 1244.4L1677.3 1245.4L1678.0 1237.7L1678.6 1241.6L1679.3 1240.1L1679.9 1241.0L1680.6 1241.3L1681.2 1240.3L1681.9 1241.6L1682.5 1239.4L1683.2 1237.9L1683.8 1240.0L1684.5 1241.0L1685.1 1243.9L1685.8 1240.9L1686.4 1242.5L1687.1 1245.2L1687.7 1236.6L1688.4 1239.3L1689.0 1242.4L1689.7 1240.7L1690.3 1237.0L1691.0 1244.6L1691.6 1240.8L1692.3 1237.6L1692.9 1248.5L1693.6 1236.9L1694.2 1241.7L1694.9 1239.5L1695.5 1242.5L1696.2 1244.4L1696.8 1239.4L1697.5 1242.2L1698.1 1242.3L1698.8 1239.2L1699.4 1247.4L1700.1 1243.9L1700.7 1242.4L1701.4 1241.1L1702.0 1242.5L1702.7 1244.4L1703.3 1242.4L1704.0 1248.9L1704.6 1234.9L1705.3 1236.6L1705.9 1243.7L1706.6 1238.0L1707.2 1244.7L1707.9 1242.7L1708.5 1247.4L1709.2 1246.9L1709.8 1250.4L1710.5 1249.1L1711.1 1250.4L1711.8 1247.9L1712.4 1250.0L1713.1 1248.0L1713.7 1244.1L1714.4 1241.8L1715.0 1242.1L1715.7 1248.5L1716.3 1238.0L1717.0 1247.6L1717.6 1244.2L1718.3 1249.9L1718.9 1248.0L1719.6 1244.6L1720.2 1247.6L1720.9 1239.2L1721.5 1248.8L1722.2 1249.6L1722.8 1241.2L1723.5 1251.3L1724.1 1247.8L1724.8 1249.0L1725.4 1243.2L1726.1 1250.8L1726.7 1250.9L1727.4 1248.8L1728.0 1245.3L1728.7 1251.9L1729.3 1253.9L1730.0 1250.9L1730.6 1253.2L1731.3 1247.5L1731.9 1250.4L1732.6 1251.3L1733.2 1250.6L1733.9 1260.7L1734.5 1251.9L1735.2 1248.5L1735.8 1253.8L1736.5 1246.8L1737.1 1252.4L1737.8 1254.0L1738.4 1249.5L1739.1 1250.3L1739.7 1248.2L1740.4 1252.3L1741.0 1249.5L1741.7 1258.6L1742.3 1254.8L1743.0 1251.8L1743.6 1247.5L1744.3 1260.5L1744.9 1258.0L1745.6 1255.1L1746.2 1254.3L1746.9 1254.4L1747.5 1252.2L1748.2 1261.1L1748.8 1255.1L1749.5 1249.2L1750.1 1252.3L1750.8 1245.4L1751.4 1257.6L1752.1 1258.2L1752.7 1262.2L1753.4 1263.6L1754.0 1253.1L1754.7 1257.9L1755.3 1260.1L1756.0 1259.6L1756.6 1255.0L1757.3 1260.0L1757.9 1259.1L1758.6 1262.5L1759.2 1257.6L1759.9 1257.0L1760.5 1256.2L1761.2 1256.9L1761.8 1255.7L1762.5 1257.4L1763.1 1260.8L1763.8 1260.8L1764.4 1264.2L1765.1 1263.5L1765.7 1262.0L1766.4 1255.6L1767.0 1262.1L1767.7 1264.5L1768.3 1255.6L1769.0 1256.4L1769.6 1257.2L1770.3 1257.0L1770.9 1260.0L1771.6 1257.8L1772.2 1262.8L1772.9 1257.1L1773.5 1261.2L1774.2 1260.0L1774.8 1258.4L1775.5 1266.0L1776.1 1262.4L1776.8 1264.5L1777.4 1261.4L1778.1 1265.4L1778.7 1265.2L1779.4 1262.5L1780.0 1256.7L1780.7 1266.5L1781.3 1266.1L1782.0 1264.4L1782.6 1264.8L1783.3 1264.5L1783.9 1264.9L1784.6 1260.6L1785.2 1264.3L1785.9 1265.8L1786.5 1262.5L1787.2 1261.4L1787.8 1272.0L1788.5 1267.5L1789.1 1264.3L1789.8 1263.8L1790.4 1256.0L1791.1 1260.6L1791.7 1265.1L1792.4 1271.0L1793.0 1258.8L1793.7 1264.0L1794.3 1273.8L1795.0 1269.4L1795.6 1268.6L1796.3 1271.7L1796.9 1267.0L1797.6 1266.9L1798.2 1270.4L1798.9 1271.1L1799.5 1264.2L1800.2 1274.0L1800.8 1262.1L1801.5 1266.1L1802.1 1280.3L1802.8 1267.2L1803.4 1271.8L1804.1 1265.8L1804.7 1268.6L1805.4 1267.3L1806.0 1268.7L1806.7 1272.9L1807.3 1277.2L1808.0 1274.2L1808.6 1276.9L1809.3 1269.5L1809.9 1277.1L1810.6 1274.0L1811.2 1277.2L1811.9 1270.8L1812.5 1271.8L1813.2 1277.9L1813.8 1275.4L1814.5 1273.8L1815.1 1271.1L1815.8 1273.5L1816.4 1275.9L1817.1 1277.0L1817.7 1272.6L1818.4 1273.6L1819.0 1276.7L1819.7 1271.2L1820.3 1279.0L1821.0 1275.8L1821.6 1275.5L1822.3 1267.3L1822.9 1270.6L1823.6 1272.8L1824.2 1274.7L1824.9 1273.0L1825.5 1278.7L1826.2 1278.0L1826.8 1276.8L1827.5 1270.4L1828.1 1283.3L1828.8 1277.3L1829.4 1280.7L1830.1 1276.3L1830.7 1278.9L1831.4 1281.7L1832.0 1280.2L1832.7 1283.0L1833.3 1278.9L1834.0 1287.1L1834.6 1272.9L1835.3 1278.0L1835.9 1283.8L1836.6 1279.4L1837.2 1278.8L1837.9 1274.0L1838.5 1285.1L1839.2 1273.8L1839.8 1282.8L1840.5 1281.7L1841.1 1284.4L1841.8 1286.6L1842.4 1278.7L1843.1 1278.4L1843.7 1280.3L1844.4 1275.3L1845.0 1284.7L1845.7 1280.3L1846.3 1282.5L1847.0 1277.8L1847.6 1282.1L1848.3 1279.8L1848.9 1281.9L1849.6 1278.2L1850.2 1286.2L1850.9 1280.0L1851.5 1273.1L1852.2 1285.0L1852.8 1281.6L1853.5 1279.5L1854.1 1292.1L1854.8 1282.7L1855.4 1278.1L1856.1 1280.8L1856.7 1284.6L1857.4 1282.4L1858.0 1288.0L1858.7 1287.4L1859.3 1280.6L1860.0 1283.8L1860.6 1286.1L1861.3 1282.3L1861.9 1282.2L1862.6 1287.3L1863.2 1285.8L1863.9 1279.1L1864.5 1282.3L1865.2 1282.9L1865.8 1284.1L1866.5 1282.0L1867.1 1289.8L1867.8 1281.4L1868.4 1281.1L1869.1 1286.0L1869.7 1277.0L1870.4 1281.7L1871.0 1288.0L1871.7 1280.9L1872.3 1282.8L1873.0 1290.1L1873.6 1288.0L1874.3 1286.7L1874.9 1287.6L1875.6 1284.4L1876.2 1288.2L1876.9 1286.5L1877.5 1296.7L1878.2 1289.7L1878.8 1286.6L1879.5 1287.9L1880.1 1288.5L1880.8 1283.4L1881.4 1285.7L1882.1 1294.6L1882.7 1284.0L1883.4 1287.2L1884.0 1293.4L1884.7 1295.4L1885.3 1286.3L1886.0 1295.7L1886.6 1289.2L1887.3 1296.9L1887.9 1292.8L1888.6 1290.1L1889.2 1294.1L1889.9 1293.7L1890.5 1289.0L1891.2 1300.0L1891.8 1291.0L1892.5 1296.7L1893.1 1290.9L1893.8 1286.1L1894.4 1288.9L1895.1 1292.9L1895.7 1295.9L1896.4 1300.1L1897.0 1294.1L1897.7 1292.9L1898.3 1289.5L1899.0 1294.1L1899.6 1295.5L1900.3 1286.4L1900.9 1299.5L1901.6 1299.1L1902.2 1303.4L1902.9 1291.8L1903.5 1295.4L1904.2 1295.5L1904.8 1290.7L1905.5 1292.6L1906.1 1292.2L1906.8 1297.9L1907.4 1297.7L1908.1 1301.3L1908.7 1294.9L1909.4 1291.4L1910.0 1298.3L1910.7 1298.2L1911.3 1299.4L1912.0 1301.7L1912.6 1295.0L1913.3 1300.3L1913.9 1293.7L1914.6 1298.2L1915.2 1300.3L1915.9 1297.4L1916.5 1298.8L1917.2 1292.9L1917.8 1295.8L1918.5 1298.9L1919.1 1294.0L1919.8 1295.4L1920.4 1307.7L1921.1 1299.8L1921.7 1295.9L1922.4 1295.2L1923.0 1304.2L1923.7 1288.8L1924.3 1298.0L1925.0 1301.6L1925.6 1297.3L1926.3 1301.4L1926.9 1295.7L1927.6 1299.6L1928.2 1299.9L1928.9 1299.9L1929.5 1300.5L1930.2 1300.2L1930.8 1304.3L1931.5 1299.3L1932.1 1298.2L1932.8 1299.4L1933.4 1299.4L1934.1 1295.0L1934.7 1293.7L1935.4 1295.9L1936.0 1302.0L1936.7 1298.6L1937.3 1299.7L1938.0 1311.9L1938.6 1305.6L1939.3 1300.7L1939.9 1299.3L1940.6 1306.8L1941.2 1298.9L1941.9 1306.5L1942.5 1304.2L1943.2 1307.2L1943.8 1299.5L1944.5 1305.6L1945.1 1295.7L1945.8 1301.8L1946.4 1306.6L1947.1 1305.2L1947.7 1296.0L1948.4 1305.4L1949.0 1304.6L1949.7 1302.8L1950.3 1300.4L1951.0 1302.2L1951.6 1301.2L1952.3 1306.9L1952.9 1305.2L1953.6 1307.5L1954.2 1306.2L1954.9 1299.0L1955.5 1304.3L1956.2 1311.8L1956.8 1299.8L1957.5 1305.1L1958.1 1301.2L1958.8 1300.9L1959.4 1305.0L1960.1 1307.7L1960.7 1307.2L1961.4 1306.2L1962.0 1308.0L1962.7 1298.5L1963.3 1307.7L1964.0 1306.2L1964.6 1304.1L1965.3 1304.8L1965.9 1301.7L1966.6 1309.3L1967.2 1302.2L1967.9 1299.6L1968.5 1305.1L1969.2 1303.0L1969.8 1305.0L1970.5 1310.9L1971.1 1304.9L1971.8 1305.9L1972.4 1313.9L1973.1 1300.3L1973.7 1307.0L1974.4 1310.0L1975.0 1311.3L1975.7 1314.1L1976.3 1303.4L1977.0 1308.2L1977.6 1305.6L1978.3 1304.4L1978.9 1303.4L1979.6 1300.7L1980.2 1307.5L1980.9 1309.1L1981.5 1302.4L1982.2 1309.3L1982.8 1304.4L1983.5 1302.8L1984.1 1296.9L1984.8 1310.8L1985.4 1309.5L1986.1 1305.7L1986.7 1305.5L1987.4 1302.2L1988.0 1309.0L1988.7 1307.0L1989.3 1309.3L1990.0 1308.0L1990.6 1302.2L1991.3 1301.8L1991.9 1309.2L1992.6 1301.4L1993.2 1308.8L1993.9 1311.3L1994.5 1303.2L1995.2 1310.6L1995.8 1308.4L1996.5 1310.3L1997.1 1306.1L1997.8 1308.5L1998.4 1310.3L1999.1 1315.6L1999.7 1311.6L2000.4 1310.9L2001.0 1304.3L2001.7 1310.5L2002.3 1306.8L2003.0 1309.2L2003.6 1310.6L2004.3 1313.3L2004.9 1312.0L2005.6 1310.6L2006.2 1309.8L2006.9 1315.2L2007.5 1306.9L2008.2 1310.5L2008.8 1315.6L2009.5 1309.8L2010.1 1313.8L2010.8 1314.1L2011.4 1318.3L2012.1 1315.2L2012.7 1305.0L2013.4 1311.2L2014.0 1312.4L2014.7 1314.5L2015.3 1313.0L2016.0 1318.7L2016.6 1315.9L2017.3 1307.4L2017.9 1309.6L2018.6 1304.4L2019.2 1318.6L2019.9 1311.8L2020.5 1311.8L2021.2 1306.6L2021.8 1310.9L2022.5 1314.3L2023.1 1311.3L2023.8 1311.4L2024.4 1310.7L2025.1 1320.5L2025.7 1311.2L2026.4 1307.9L2027.0 1311.5L2027.7 1312.3L2028.3 1313.3L2029.0 1312.9L2029.6 1309.7L2030.3 1313.3L2030.9 1315.6L2031.6 1309.1L2032.2 1321.9L2032.9 1320.9L2033.5 1307.9L2034.2 1313.5L2034.8 1318.8L2035.5 1320.2L2036.1 1322.0L2036.8 1308.5L2037.4 1311.4L2038.1 1313.7L2038.7 1317.9L2039.4 1311.9L2040.0 1317.7L2040.7 1317.9L2041.3 1319.0L2042.0 1311.6L2042.6 1317.4L2043.3 1317.0L2043.9 1315.3L2044.6 1321.9L2045.2 1316.0L2045.9 1322.7L2046.5 1315.1L2047.2 1323.9L2047.8 1323.8L2048.5 1314.7L2049.1 1319.2L2049.8 1319.2L2050.4 1314.5L2051.1 1321.2L2051.7 1320.6L2052.4 1315.2L2053.0 1319.0L2053.7 1322.1L2054.3 1318.3L2055.0 1316.3L2055.6 1325.3L2056.3 1315.5L2056.9 1320.6L2057.6 1323.7L2058.2 1322.5L2058.9 1312.8L2059.5 1318.6L2060.2 1319.4L2060.8 1319.2L2061.5 1322.5L2062.1 1322.3L2062.8 1320.8L2063.4 1321.5L2064.1 1324.4L2064.7 1325.4L2065.4 1313.7L2066.0 1329.1L2066.7 1318.9L2067.3 1324.0L2068.0 1315.1L2068.6 1319.3L2069.3 1316.6L2069.9 1325.5L2070.6 1324.9L2071.2 1321.7L2071.9 1321.1L2072.5 1323.3L2073.2 1318.4L2073.8 1319.7L2074.5 1319.2L2075.1 1325.2L2075.8 1322.3L2076.4 1317.5L2077.1 1323.6L2077.7 1324.4L2078.4 1327.7L2079.0 1320.5L2079.7 1324.2L2080.3 1330.5L2081.0 1321.6L2081.6 1321.5L2082.3 1324.8L2082.9 1321.1L2083.6 1323.0L2084.2 1321.2L2084.9 1320.2L2085.5 1326.5L2086.2 1321.9L2086.8 1319.6L2087.5 1322.3L2088.1 1322.9L2088.8 1324.6L2089.4 1327.1L2090.1 1330.3L2090.7 1319.1L2091.4 1322.8L2092.0 1317.0L2092.7 1324.7L2093.3 1325.9L2094.0 1321.5L2094.6 1320.6L2095.3 1320.3L2095.9 1318.5L2096.6 1326.5L2097.2 1331.4L2097.9 1320.0L2098.5 1330.4L2099.2 1323.9L2099.8 1319.2L2100.5 1326.6L2101.1 1327.4L2101.8 1326.1L2102.4 1323.7L2103.1 1331.0L2103.7 1323.7L2104.4 1327.2L2105.0 1327.3L2105.7 1321.6L2106.3 1318.1L2107.0 1318.6L2107.6 1323.6L2108.3 1326.5L2108.9 1318.6L2109.6 1322.6L2110.2 1331.1L2110.9 1318.7L2111.5 1327.2L2112.2 1326.9L2112.8 1328.6L2113.5 1320.1L2114.1 1327.0L2114.8 1320.6L2115.4 1330.8L2116.1 1322.7L2116.7 1327.4L2117.4 1323.0L2118.0 1326.6L2118.7 1320.4L2119.3 1327.3L2120.0 1328.5L2120.6 1326.3L2121.3 1332.5L2121.9 1327.9L2122.6 1329.5L2123.2 1328.5L2123.9 1333.7L2124.5 1324.3L2125.2 1325.8L2125.8 1326.1L2126.5 1329.3L2127.1 1328.0L2127.8 1330.2L2128.4 1328.3L2129.1 1325.3L2129.7 1327.1L2130.4 1329.0L2131.0 1318.9L2131.7 1332.8L2132.3 1325.5L2133.0 1326.3L2133.6 1328.7L2134.3 1326.9L2134.9 1322.4L2135.6 1327.1L2136.2 1333.3L2136.9 1332.1L2137.5 1332.9" fill="none" stroke="#00ff00" stroke-width="3.7" stroke-linejoin="miter"/>
<path d="M352.0 857.4L352.6 856.0L353.3 856.1L353.9 852.3L354.6 860.1L355.2 858.9L355.9 856.1L356.5 858.1L357.2 857.1L357.8 855.5L358.5 858.3L359.1 855.9L359.8 855.8L360.4 854.9L361.1 857.1L361.7 856.1L362.4 857.2L363.0 855.0L363.7 856.4L364.3 854.4L365.0 857.6L365.6 856.3L366.3 856.6L366.9 856.7L367.6 854.0L368.2 857.3L368.9 859.6L369.5 852.7L370.2 852.5L370.8 852.8L371.5 857.2L372.1 855.8L372.8 857.5L373.4 856.8L374.1 855.8L374.7 855.9L375.4 855.0L376.0 856.8L376.7 853.1L377.3 854.3L378.0 855.5L378.6 858.4L379.3 853.5L379.9 852.9L380.6 853.8L381.2 856.6L381.9 854.3L382.5 857.1L383.2 851.1L383.8 856.6L384.5 856.3L385.1 851.7L385.8 854.6L386.4 856.5L387.1 854.3L387.7 855.9L388.4 858.4L389.0 854.4L389.7 853.3L390.3 852.3L391.0 854.9L391.6 853.2L392.3 853.1L392.9 853.2L393.6 854.5L394.2 851.2L394.9 850.3L395.5 848.5L396.2 855.2L396.8 853.0L397.5 855.5L398.1 852.6L398.8 851.1L399.4 853.3L400.1 852.2L400.7 849.9L401.4 850.4L402.0 855.3L402.7 852.5L403.3 852.5L404.0 851.1L404.6 850.2L405.3 853.0L405.9 851.0L406.6 849.6L407.2 850.7L407.9 849.1L408.5 851.0L409.2 852.6L409.8 848.7L410.5 852.8L411.1 848.7L411.8 850.1L412.4 848.0L413.1 849.0L413.7 849.3L414.4 848.2L415.0 847.5L415.7 847.4L416.3 846.9L417.0 845.3L417.6 847.6L418.3 848.7L418.9 849.4L419.6 848.7L420.2 852.0L420.9 847.7L421.5 846.0L422.2 850.2L422.8 844.5L423.5 848.1L424.1 844.3L424.8 846.5L425.4 841.9L426.1 847.2L426.7 844.9L427.4 843.2L428.0 848.0L428.7 846.0L429.3 844.4L430.0 842.7L430.6 843.8L431.3 843.4L431.9 844.8L432.6 844.7L433.2 841.7L433.9 841.7L434.5 841.4L435.2 839.6L435.8 840.8L436.5 841.5L437.1 842.8L437.8 843.7L438.4 839.4L439.1 841.7L439.7 839.5L440.4 844.1L441.0 839.7L441.7 840.5L442.3 837.5L443.0 837.4L443.6 839.1L444.3 837.6L444.9 838.8L445.6 834.8L446.2 838.7L446.9 835.4L447.5 840.2L448.2 835.9L448.8 838.3L449.5 833.1L450.1 836.3L450.8 833.4L451.4 833.9L452.1 834.5L452.7 833.5L453.4 834.2L454.0 834.8L454.7 834.2L455.3 832.4L456.0 829.5L456.6 830.2L457.3 831.0L457.9 826.8L458.6 832.0L459.2 829.6L459.9 829.2L460.5 831.1L461.2 830.1L461.8 828.8L462.5 825.9L463.1 828.0L463.8 827.6L464.4 824.7L465.1 828.1L465.7 826.5L466.4 821.1L467.0 824.8L467.7 821.5L468.3 825.8L469.0 824.6L469.6 820.3L470.3 820.2L470.9 821.6L471.6 820.4L472.2 823.3L472.9 821.2L473.5 818.5L474.2 819.6L474.8 813.7L475.5 817.8L476.1 818.2L476.8 815.5L477.4 813.7L478.1 815.6L478.7 817.7L479.4 813.4L480.0 809.9L480.7 814.4L481.3 806.9L482.0 811.0L482.6 808.0L483.3 810.3L483.9 805.9L484.6 809.5L485.2 806.6L485.9 801.7L486.5 800.4L487.2 803.0L487.8 805.5L488.5 802.3L489.1 801.3L489.8 799.8L490.4 801.0L491.1 799.4L491.7 798.4L492.4 794.8L493.0 798.5L493.7 798.0L494.3 791.5L495.0 798.2L495.6 793.9L496.3 790.4L496.9 786.5L497.6 791.0L498.2 789.8L498.9 786.4L499.5 782.9L500.2 788.1L500.8 783.5L501.5 782.8L502.1 788.9L502.8 786.4L503.4 782.8L504.1 778.8L504.7 780.1L505.4 772.7L506.0 776.8L506.7 773.8L507.3 771.6L508.0 769.8L508.6 773.3L509.3 771.3L509.9 770.3L510.6 770.7L511.2 765.8L511.9 763.8L512.5 761.4L513.2 763.5L513.8 764.8L514.5 761.6L515.1 762.2L515.8 757.0L516.4 757.4L517.1 755.6L517.7 753.4L518.4 759.3L519.0 755.8L519.7 751.0L520.3 749.9L521.0 750.4L521.6 746.1L522.3 749.2L522.9 744.1L523.6 745.1L524.2 742.4L524.9 742.5L525.5 739.4L526.2 737.6L526.8 737.9L527.5 737.4L528.1 737.1L528.8 736.7L529.4 739.0L530.1 736.1L530.7 732.4L531.4 733.5L532.0 728.9L532.7 732.8L533.3 729.4L534.0 723.6L534.6 727.4L535.3 726.3L535.9 716.7L536.6 720.0L537.2 719.4L537.9 714.6L538.5 715.4L539.2 714.4L539.8 716.6L540.5 714.8L541.1 719.1L541.8 710.4L542.4 712.9L543.1 708.9L543.7 708.0L544.4 703.1L545.0 699.9L545.7 701.3L546.3 703.7L547.0 704.3L547.6 700.5L548.3 698.9L548.9 694.1L549.6 698.6L550.2 696.7L550.9 690.5L551.5 690.3L552.2 686.4L552.8 691.2L553.5 687.0L554.1 684.2L554.8 683.9L555.4 682.5L556.1 678.7L556.7 675.0L557.4 673.2L558.0 670.4L558.7 674.3L559.3 677.1L560.0 665.2L560.6 668.2L561.3 667.1L561.9 661.6L562.6 662.9L563.2 657.7L563.9 662.1L564.5 655.6L565.2 655.8L565.8 655.7L566.5 651.2L567.1 646.0L567.8 647.8L568.4 649.8L569.1 646.0L569.7 645.4L570.4 640.4L571.0 642.3L571.7 642.4L572.3 639.1L573.0 642.8L573.6 635.6L574.3 631.8L574.9 628.8L575.6 634.9L576.2 630.1L576.9 631.6L577.5 628.6L578.2 630.3L578.8 627.8L579.5 621.7L580.1 622.0L580.8 622.8L581.4 614.8L582.1 620.9L582.7 618.7L583.4 616.6L584.0 611.8L584.7 611.7L585.3 606.2L586.0 608.1L586.6 604.9L587.3 605.4L587.9 602.4L588.6 603.2L589.2 604.5L589.9 596.0L590.5 601.2L591.2 591.5L591.8 589.7L592.5 594.4L593.1 593.5L593.8 593.5L594.4 586.2L595.1 589.6L595.7 588.8L596.4 590.9L597.0 585.6L597.7 586.1L598.3 580.4L599.0 581.3L599.6 579.1L600.3 581.1L600.9 574.6L601.6 573.5L602.2 576.1L602.9 578.2L603.5 572.4L604.2 570.6L604.8 567.1L605.5 569.9L606.1 566.7L606.8 568.8L607.4 563.0L608.1 557.7L608.7 557.4L609.4 554.7L610.0 552.6L610.7 559.0L611.3 556.4L612.0 549.0L612.6 557.1L613.3 551.3L613.9 546.5L614.6 549.6L615.2 547.2L615.9 544.0L616.5 539.4L617.2 544.6L617.8 544.4L618.5 534.5L619.1 543.3L619.8 542.6L620.4 538.2L621.1 539.1L621.7 536.9L622.4 534.2L623.0 534.7L623.7 539.1L624.3 529.3L625.0 533.6L625.6 532.4L626.3 528.5L626.9 528.3L627.6 524.3L628.2 525.0L628.9 526.7L629.5 526.6L630.2 521.7L630.8 533.2L631.5 520.6L632.1 521.8L632.8 519.6L633.4 518.0L634.1 522.3L634.7 515.6L635.4 520.3L636.0 518.6L636.7 510.5L637.3 516.2L638.0 509.6L638.6 519.4L639.3 508.2L639.9 505.2L640.6 500.8L641.2 501.6L641.9 502.7L642.5 500.1L643.2 498.1L643.8 498.6L644.5 499.0L645.1 503.2L645.8 491.7L646.4 494.3L647.1 491.8L647.7 488.8L648.4 488.5L649.0 488.7L649.7 493.1L650.3 489.1L651.0 487.0L651.6 490.0L652.3 488.1L652.9 485.7L653.6 487.0L654.2 482.3L654.9 486.6L655.5 485.4L656.2 481.9L656.8 478.6L657.5 487.3L658.1 481.9L658.8 491.4L659.4 478.4L660.1 483.0L660.7 478.2L661.4 480.0L662.0 481.5L662.7 475.6L663.3 477.5L664.0 477.9L664.6 477.2L665.3 478.4L665.9 479.4L666.6 478.3L667.2 475.8L667.9 473.3L668.5 470.1L669.2 470.9L669.8 471.1L670.5 474.6L671.1 470.5L671.8 466.9L672.4 472.7L673.1 467.3L673.7 466.8L674.4 468.1L675.0 469.9L675.7 459.5L676.3 463.4L677.0 467.2L677.6 464.9L678.3 462.6L678.9 463.2L679.6 469.3L680.2 462.5L680.9 466.1L681.5 465.9L682.2 461.2L682.8 463.9L683.5 460.5L684.1 459.6L684.8 457.5L685.4 464.0L686.1 459.3L686.7 458.5L687.4 456.3L688.0 466.1L688.7 462.2L689.3 458.9L690.0 456.7L690.6 453.6L691.3 459.6L691.9 459.4L692.6 453.3L693.2 461.9L693.9 460.3L694.5 454.1L695.2 455.3L695.8 455.5L696.5 457.3L697.1 456.0L697.8 450.6L698.4 461.1L699.1 456.8L699.7 459.8L700.4 459.5L701.0 454.2L701.7 455.7L702.3 456.8L703.0 456.6L703.6 453.0L704.3 451.1L704.9 453.0L705.6 449.7L706.2 450.2L706.9 444.8L707.5 451.8L708.2 447.6L708.8 449.0L709.5 450.5L710.1 451.5L710.8 456.7L711.4 450.7L712.1 444.9L712.7 450.1L713.4 447.5L714.0 450.9L714.7 447.1L715.3 447.1L716.0 447.8L716.6 447.5L717.3 443.5L717.9 447.3L718.6 448.8L719.2 451.1L719.9 442.2L720.5 436.5L721.2 433.8L721.8 429.0L722.5 431.7L723.1 431.4L723.8 435.5L724.4 447.2L725.1 453.7L725.7 450.8L726.4 455.3L727.0 450.2L727.7 455.6L728.3 454.4L729.0 457.2L729.6 456.8L730.3 458.4L730.9 459.1L731.6 461.6L732.2 461.2L732.9 459.0L733.5 457.1L734.2 466.3L734.8 467.5L735.5 461.7L736.1 465.7L736.8 459.2L737.4 459.7L738.1 464.7L738.7 471.3L739.4 463.3L740.0 464.6L740.7 473.6L741.3 462.3L742.0 471.6L742.6 471.6L743.3 469.9L743.9 471.8L744.6 480.7L745.2 468.6L745.9 471.9L746.5 472.7L747.2 471.8L747.8 470.2L748.5 480.6L749.1 476.6L749.8 470.4L750.4 474.6L751.1 478.9L751.7 479.4L752.4 473.8L753.0 478.9L753.7 480.6L754.3 481.6L755.0 482.2L755.6 475.4L756.3 488.3L756.9 483.4L757.6 489.3L758.2 493.5L758.9 484.0L759.5 481.0L760.2 488.7L760.8 485.8L761.5 485.6L762.1 484.4L762.8 494.1L763.4 487.8L764.1 485.4L764.7 489.3L765.4 487.7L766.0 492.9L766.7 491.8L767.3 490.5L768.0 496.8L768.6 493.5L769.3 498.8L769.9 501.4L770.6 496.9L771.2 496.8L771.9 500.3L772.5 503.4L773.2 501.3L773.8 502.5L774.5 502.7L775.1 504.6L775.8 506.4L776.4 502.7L777.1 504.2L777.7 506.6L778.4 505.0L779.0 508.2L779.7 510.2L780.3 509.1L781.0 507.8L781.6 507.9L782.3 516.8L782.9 514.6L783.6 508.8L784.2 510.3L784.9 519.7L785.5 519.2L786.2 515.3L786.8 519.3L787.5 511.4L788.1 516.8L788.8 519.8L789.4 512.1L790.1 516.2L790.7 521.9L791.4 523.6L792.0 518.8L792.7 522.2L793.3 527.1L794.0 521.4L794.6 519.0L795.3 523.7L795.9 523.3L796.6 529.3L797.2 526.3L797.9 523.9L798.5 534.7L799.2 526.1L799.8 529.8L800.5 531.1L801.1 532.1L801.8 530.8L802.4 532.8L803.1 531.4L803.7 527.8L804.4 532.2L805.0 533.0L805.7 533.7L806.3 535.4L807.0 533.7L807.6 540.5L808.3 542.0L808.9 531.0L809.6 538.7L810.2 537.2L810.9 532.1L811.5 542.3L812.2 539.9L812.8 541.5L813.5 541.5L814.1 547.7L814.8 549.0L815.4 546.8L816.1 549.0L816.7 547.3L817.4 548.9L818.0 546.9L818.7 550.1L819.3 548.6L820.0 552.7L820.6 554.8L821.3 553.9L821.9 557.3L822.6 562.5L823.2 548.5L823.9 555.6L824.5 554.4L825.2 555.3L825.8 553.1L826.5 557.9L827.1 557.5L827.8 556.8L828.4 558.5L829.1 557.9L829.7 553.1L830.4 564.0L831.0 560.2L831.7 558.8L832.3 563.1L833.0 560.6L833.6 556.5L834.3 566.3L834.9 559.0L835.6 564.0L836.2 565.5L836.9 569.8L837.5 569.9L838.2 567.4L838.8 565.2L839.5 566.9L840.1 572.1L840.8 574.8L841.4 571.8L842.1 568.9L842.7 574.7L843.4 571.2L844.0 571.8L844.7 572.9L845.3 576.3L846.0 576.1L846.6 579.0L847.3 580.6L847.9 579.1L848.6 571.4L849.2 574.1L849.9 580.4L850.5 580.5L851.2 587.8L851.8 582.2L852.5 582.6L853.1 586.6L853.8 587.8L854.4 584.8L855.1 587.7L855.7 583.9L856.4 585.3L857.0 592.5L857.7 585.7L858.3 593.3L859.0 593.5L859.6 594.6L860.3 595.9L860.9 595.7L861.6 588.8L862.2 592.9L862.9 595.0L863.5 600.2L864.2 595.2L864.8 597.3L865.5 599.2L866.1 604.9L866.8 597.8L867.4 598.9L868.1 605.4L868.7 598.4L869.4 606.3L870.0 604.9L870.7 602.5L871.3 606.6L872.0 605.8L872.6 609.9L873.3 611.2L873.9 615.2L874.6 611.7L875.2 612.8L875.9 611.6L876.5 613.9L877.2 617.7L877.8 610.0L878.5 618.0L879.1 615.4L879.8 617.9L880.4 619.3L881.1 621.5L881.7 620.5L882.4 619.5L883.0 622.2L883.7 622.2L884.3 622.3L885.0 624.2L885.6 626.9L886.3 625.6L886.9 626.5L887.6 623.3L888.2 627.4L888.9 623.4L889.5 631.4L890.2 627.8L890.8 634.8L891.5 640.4L892.1 632.0L892.8 637.7L893.4 636.2L894.1 634.6L894.7 634.8L895.4 639.8L896.0 643.2L896.7 641.6L897.3 637.8L898.0 640.4L898.6 644.0L899.3 649.6L899.9 648.2L900.6 649.7L901.2 653.6L901.9 651.3L902.5 653.1L903.2 654.3L903.8 651.6L904.5 659.1L905.1 660.4L905.8 663.4L906.4 659.1L907.1 661.5L907.7 667.5L908.4 667.2L909.0 671.3L909.7 666.7L910.3 670.8L911.0 669.8L911.6 673.6L912.3 672.8L912.9 676.7L913.6 679.4L914.2 679.5L914.9 674.4L915.5 682.7L916.2 682.6L916.8 680.0L917.5 681.6L918.1 685.1L918.8 687.8L919.4 686.4L920.1 684.6L920.7 690.6L921.4 691.5L922.0 698.4L922.7 690.2L923.3 700.9L924.0 700.1L924.6 697.7L925.3 702.3L925.9 699.5L926.6 702.9L927.2 699.8L927.9 703.0L928.5 701.4L929.2 701.2L929.8 705.5L930.5 705.7L931.1 709.8L931.8 712.6L932.4 710.2L933.1 711.9L933.7 713.3L934.4 709.9L935.0 715.8L935.7 716.3L936.3 717.2L937.0 715.8L937.6 714.8L938.3 720.1L938.9 722.6L939.6 726.2L940.2 726.9L940.9 728.8L941.5 727.4L942.2 730.4L942.8 728.4L943.5 731.6L944.1 733.5L944.8 738.8L945.4 734.2L946.1 731.9L946.7 739.3L947.4 735.4L948.0 738.3L948.7 739.0L949.3 738.8L950.0 745.2L950.6 744.7L951.3 743.1L951.9 745.9L952.6 746.0L953.2 749.7L953.9 748.6L954.5 749.0L955.2 750.5L955.8 752.3L956.5 755.2L957.1 753.7L957.8 756.8L958.4 759.3L959.1 764.8L959.7 762.7L960.4 755.4L961.0 762.2L961.7 763.8L962.3 766.7L963.0 770.8L963.6 770.3L964.3 765.0L964.9 772.1L965.6 773.1L966.2 775.3L966.9 778.9L967.5 775.3L968.2 781.9L968.8 777.7L969.5 783.2L970.1 785.7L970.8 791.6L971.4 786.9L972.1 786.5L972.7 793.1L973.4 791.7L974.0 797.7L974.7 794.1L975.3 794.7L976.0 799.9L976.6 798.2L977.3 800.8L977.9 796.4L978.6 803.4L979.2 799.3L979.9 802.8L980.5 799.5L981.2 798.9L981.8 802.0L982.5 803.4L983.1 806.7L983.8 804.6L984.4 805.7L985.1 806.0L985.7 811.5L986.4 803.8L987.0 808.4L987.7 805.9L988.3 807.2L989.0 805.9L989.6 809.9L990.3 805.4L990.9 805.7L991.6 808.5L992.2 807.1L992.9 811.5L993.5 812.5L994.2 809.8L994.8 813.6L995.5 811.4L996.1 813.4L996.8 814.4L997.4 819.0L998.1 816.1L998.7 815.2L999.4 816.2L1000.0 821.4L1000.7 816.6L1001.3 820.0L1002.0 821.2L1002.6 818.1L1003.3 823.0L1003.9 826.9L1004.6 826.4L1005.2 825.1L1005.9 829.2L1006.5 829.8L1007.2 833.6L1007.8 829.1L1008.5 830.6L1009.1 832.3L1009.8 832.7L1010.4 833.8L1011.1 834.1L1011.7 833.5L1012.4 832.3L1013.0 834.9L1013.7 833.8L1014.3 834.9L1015.0 836.4L1015.6 838.8L1016.3 840.0L1016.9 836.7L1017.6 839.7L1018.2 841.1L1018.9 839.9L1019.5 837.2L1020.2 836.6L1020.8 842.6L1021.5 843.2L1022.1 842.3L1022.8 840.1L1023.4 845.3L1024.1 845.1L1024.7 843.1L1025.4 843.1L1026.0 840.1L1026.7 845.6L1027.3 841.5L1028.0 846.2L1028.6 846.6L1029.3 845.8L1029.9 848.9L1030.6 845.7L1031.2 847.8L1031.9 848.6L1032.5 847.9L1033.2 847.1L1033.8 850.6L1034.5 849.5L1035.1 848.7L1035.8 849.2L1036.4 850.1L1037.1 854.6L1037.7 850.9L1038.4 850.7L1039.0 849.6L1039.7 849.7L1040.3 848.8L1041.0 853.2L1041.6 853.3L1042.3 851.7L1042.9 851.2L1043.6 853.8L1044.2 853.8L1044.9 852.7L1045.5 856.2L1046.2 856.3L1046.8 856.3L1047.5 858.2L1048.1 855.9L1048.8 860.0L1049.4 856.0L1050.1 859.1L1050.7 859.7L1051.4 858.4L1052.0 859.8L1052.7 857.1L1053.3 857.0L1054.0 859.7L1054.6 859.1L1055.3 861.8L1055.9 861.1L1056.6 862.4L1057.2 862.2L1057.9 862.3L1058.5 862.4L1059.2 861.8L1059.8 861.9L1060.5 866.8L1061.1 860.1L1061.8 863.3L1062.4 865.7L1063.1 864.9L1063.7 867.0L1064.4 865.7L1065.0 862.6L1065.7 864.5L1066.3 862.8L1067.0 867.4L1067.6 868.5L1068.3 865.3L1068.9 867.3L1069.6 865.8L1070.2 864.1L1070.9 866.1L1071.5 864.2L1072.2 866.3L1072.8 867.8L1073.5 869.0L1074.1 870.2L1074.8 867.4L1075.4 868.6L1076.1 869.1L1076.7 869.5L1077.4 863.5L1078.0 867.4L1078.7 870.4L1079.3 867.1L1080.0 869.8L1080.6 871.0L1081.3 866.2L1081.9 869.4L1082.6 870.4L1083.2 870.1L1083.9 867.5L1084.5 871.0L1085.2 869.5L1085.8 872.1L1086.5 871.6L1087.1 869.9L1087.8 871.4L1088.4 870.0L1089.1 870.1L1089.7 868.6L1090.4 871.1L1091.0 873.1L1091.7 872.0L1092.3 871.9L1093.0 870.9L1093.6 871.2L1094.3 873.6L1094.9 869.7L1095.6 876.1L1096.2 872.4L1096.9 876.5L1097.5 874.8L1098.2 872.1L1098.8 874.2L1099.5 873.5L1100.1 873.9L1100.8 874.6L1101.4 872.3L1102.1 872.2L1102.7 872.6L1103.4 871.0L1104.0 873.0L1104.7 874.0L1105.3 874.1L1106.0 874.1L1106.6 873.1L1107.3 875.3L1107.9 870.3L1108.6 873.3L1109.2 873.5L1109.9 875.7L1110.5 875.3L1111.2 875.6L1111.8 874.3L1112.5 876.0L1113.1 872.6L1113.8 874.5L1114.4 870.7L1115.1 877.5L1115.7 877.4L1116.4 873.5L1117.0 873.1L1117.7 870.9L1118.3 871.9L1119.0 874.8L1119.6 874.4L1120.3 872.0L1120.9 873.7L1121.6 873.4L1122.2 875.4L1122.9 875.9L1123.5 874.2L1124.2 874.8L1124.8 874.5L1125.5 870.8L1126.1 874.8L1126.8 874.3L1127.4 875.8L1128.1 871.1L1128.7 875.7L1129.4 873.2L1130.0 874.8L1130.7 876.4L1131.3 871.6L1132.0 871.8L1132.6 875.9L1133.3 872.0L1133.9 872.3L1134.6 875.0L1135.2 873.5L1135.9 875.2L1136.5 874.3L1137.2 873.7L1137.8 875.4L1138.5 877.5L1139.1 873.4L1139.8 876.2L1140.4 875.5L1141.1 873.6L1141.7 874.2L1142.4 871.6L1143.0 872.1L1143.7 873.7L1144.3 873.0L1145.0 875.4L1145.6 870.7L1146.3 872.4L1146.9 871.8L1147.6 872.6L1148.2 874.9L1148.9 870.6L1149.5 874.2L1150.2 871.6L1150.8 872.0L1151.5 874.3L1152.1 872.0L1152.8 873.6L1153.4 872.6L1154.1 872.0L1154.7 871.6L1155.4 869.1L1156.0 870.8L1156.7 872.4L1157.3 872.4L1158.0 869.3L1158.6 873.7L1159.3 872.9L1159.9 869.5L1160.6 869.9L1161.2 872.6L1161.9 868.5L1162.5 870.3L1163.2 871.4L1163.8 871.2L1164.5 871.3L1165.1 872.0L1165.8 869.8L1166.4 870.3L1167.1 874.8L1167.7 868.5L1168.4 870.2L1169.0 871.1L1169.7 869.7L1170.3 873.0L1171.0 870.8L1171.6 872.0L1172.3 865.8L1172.9 872.6L1173.6 872.4L1174.2 868.9L1174.9 872.6L1175.5 870.6L1176.2 871.7L1176.8 873.2L1177.5 870.0L1178.1 867.9L1178.8 869.5L1179.4 867.1L1180.1 867.9L1180.7 867.8L1181.4 867.7L1182.0 871.0L1182.7 870.2L1183.3 866.9L1184.0 870.5L1184.6 865.2L1185.3 866.9L1185.9 867.7L1186.6 869.9L1187.2 868.9L1187.9 868.3L1188.5 869.6L1189.2 868.4L1189.8 869.4L1190.5 865.4L1191.1 863.6L1191.8 865.7L1192.4 867.8L1193.1 866.7L1193.7 867.7L1194.4 867.2L1195.0 866.7L1195.7 867.1L1196.3 864.2L1197.0 867.4L1197.6 863.5L1198.3 865.0L1198.9 862.5L1199.6 866.0L1200.2 862.1L1200.9 867.5L1201.5 862.4L1202.2 865.3L1202.8 864.5L1203.5 863.1L1204.1 867.0L1204.8 863.9L1205.4 867.3L1206.1 862.7L1206.7 863.1L1207.4 860.9L1208.0 865.5L1208.7 866.1L1209.3 864.8L1210.0 864.1L1210.6 862.7L1211.3 868.6L1211.9 865.7L1212.6 860.9L1213.2 863.7L1213.9 859.5L1214.5 867.1L1215.2 867.8L1215.8 866.8L1216.5 864.0L1217.1 863.0L1217.8 861.5L1218.4 865.0L1219.1 862.7L1219.7 863.4L1220.4 862.9L1221.0 863.4L1221.7 865.6L1222.3 867.1L1223.0 864.2L1223.6 864.0L1224.3 861.9L1224.9 861.7L1225.6 862.0L1226.2 865.5L1226.9 864.4L1227.5 865.7L1228.2 864.7L1228.8 863.2L1229.5 861.6L1230.1 863.2L1230.8 861.3L1231.4 867.6L1232.1 864.4L1232.7 863.3L1233.4 867.6L1234.0 863.3L1234.7 865.1L1235.3 863.8L1236.0 864.8L1236.6 863.5L1237.3 865.2L1237.9 867.0L1238.6 862.1L1239.2 860.4L1239.9 867.0L1240.5 864.9L1241.2 866.3L1241.8 864.3L1242.5 867.7L1243.1 868.3L1243.8 862.9L1244.4 866.4L1245.1 864.2L1245.7 862.4L1246.4 864.9L1247.0 866.6L1247.7 863.2L1248.3 863.5L1249.0 868.2L1249.6 866.1L1250.3 866.9L1250.9 864.2L1251.6 865.2L1252.2 866.7L1252.9 867.0L1253.5 867.0L1254.2 869.8L1254.8 867.3L1255.5 864.3L1256.1 865.6L1256.8 867.2L1257.4 869.8L1258.1 866.3L1258.7 867.0L1259.4 867.8L1260.0 866.7L1260.7 866.7L1261.3 867.9L1262.0 870.3L1262.6 869.6L1263.3 868.4L1263.9 869.9L1264.6 867.0L1265.2 871.4L1265.9 871.1L1266.5 870.6L1267.2 867.3L1267.8 874.2L1268.5 865.4L1269.1 869.2L1269.8 869.6L1270.4 872.8L1271.1 869.0L1271.7 872.4L1272.4 872.0L1273.0 872.0L1273.7 874.3L1274.3 875.6L1275.0 874.0L1275.6 873.1L1276.3 869.7L1276.9 876.7L1277.6 873.7L1278.2 871.2L1278.9 875.0L1279.5 877.6L1280.2 875.0L1280.8 873.3L1281.5 879.7L1282.1 877.0L1282.8 876.7L1283.4 878.1L1284.1 872.5L1284.7 876.5L1285.4 876.5L1286.0 881.0L1286.7 876.1L1287.3 876.2L1288.0 874.9L1288.6 876.0L1289.3 877.3L1289.9 878.2L1290.6 877.6L1291.2 881.6L1291.9 879.0L1292.5 879.4L1293.2 880.9L1293.8 879.7L1294.5 877.7L1295.1 876.0L1295.8 879.5L1296.4 877.5L1297.1 881.5L1297.7 877.8L1298.4 875.3L1299.0 879.5L1299.7 881.5L1300.3 879.3L1301.0 880.1L1301.6 880.2L1302.3 883.1L1302.9 880.7L1303.6 880.2L1304.2 879.3L1304.9 877.6L1305.5 883.1L1306.2 882.8L1306.8 879.2L1307.5 882.1L1308.1 881.7L1308.8 880.6L1309.4 880.9L1310.1 882.9L1310.7 879.6L1311.4 881.0L1312.0 881.9L1312.7 882.2L1313.3 882.0L1314.0 883.0L1314.6 883.7L1315.3 881.4L1315.9 883.3L1316.6 882.5L1317.2 886.3L1317.9 881.4L1318.5 883.7L1319.2 885.6L1319.8 884.1L1320.5 884.2L1321.1 884.1L1321.8 885.9L1322.4 883.5L1323.1 885.7L1323.7 885.9L1324.4 883.8L1325.0 887.1L1325.7 886.1L1326.3 887.7L1327.0 888.9L1327.6 888.3L1328.3 885.9L1328.9 888.8L1329.6 885.7L1330.2 887.4L1330.9 892.0L1331.5 889.3L1332.2 892.3L1332.8 889.5L1333.5 890.1L1334.1 888.4L1334.8 892.2L1335.4 890.4L1336.1 892.1L1336.7 892.0L1337.4 892.4L1338.0 892.2L1338.7 891.8L1339.3 892.1L1340.0 891.1L1340.6 888.8L1341.3 893.5L1341.9 896.4L1342.6 894.9L1343.2 897.2L1343.9 894.2L1344.5 891.9L1345.2 892.0L1345.8 895.1L1346.5 894.6L1347.1 893.9L1347.8 895.6L1348.4 893.0L1349.1 895.6L1349.7 894.3L1350.4 895.2L1351.0 897.1L1351.7 895.0L1352.3 897.8L1353.0 897.8L1353.6 894.4L1354.3 899.8L1354.9 893.9L1355.6 896.0L1356.2 897.5L1356.9 892.5L1357.5 898.3L1358.2 898.7L1358.8 896.7L1359.5 897.5L1360.1 897.5L1360.8 896.9L1361.4 899.3L1362.1 896.9L1362.7 897.7L1363.4 898.5L1364.0 899.5L1364.7 900.1L1365.3 895.8L1366.0 895.0L1366.6 898.4L1367.3 898.7L1367.9 897.1L1368.6 899.7L1369.2 900.4L1369.9 900.1L1370.5 902.5L1371.2 898.1L1371.8 900.0L1372.5 903.5L1373.1 901.5L1373.8 898.6L1374.4 901.1L1375.1 902.9L1375.7 904.6L1376.4 902.4L1377.0 903.4L1377.7 899.7L1378.3 901.4L1379.0 904.0L1379.6 900.5L1380.3 902.2L1380.9 899.4L1381.6 905.2L1382.2 902.7L1382.9 904.0L1383.5 900.7L1384.2 901.2L1384.8 906.7L1385.5 903.2L1386.1 903.0L1386.8 905.0L1387.4 905.2L1388.1 901.2L1388.7 903.0L1389.4 904.9L1390.0 905.0L1390.7 905.7L1391.3 904.6L1392.0 905.0L1392.6 906.0L1393.3 904.6L1393.9 904.5L1394.6 905.2L1395.2 906.2L1395.9 906.1L1396.5 905.7L1397.2 906.2L1397.8 906.7L1398.5 907.5L1399.1 907.7L1399.8 905.0L1400.4 908.9L1401.1 904.8L1401.7 908.5L1402.4 906.5L1403.0 908.8L1403.7 909.7L1404.3 904.9L1405.0 909.2L1405.6 908.8L1406.3 907.7L1406.9 909.2L1407.6 907.9L1408.2 909.0L1408.9 907.2L1409.5 910.3L1410.2 910.1L1410.8 910.5L1411.5 908.3L1412.1 912.6L1412.8 912.9L1413.4 909.6L1414.1 909.2L1414.7 909.3L1415.4 911.3L1416.0 912.0L1416.7 909.2L1417.3 907.2L1418.0 911.4L1418.6 910.7L1419.3 911.2L1419.9 911.9L1420.6 909.4L1421.2 911.5L1421.9 911.0L1422.5 912.3L1423.2 913.8L1423.8 912.0L1424.5 910.7L1425.1 914.3L1425.8 913.6L1426.4 912.3L1427.1 909.8L1427.7 911.5L1428.4 913.4L1429.0 914.2L1429.7 912.6L1430.3 914.4L1431.0 912.8L1431.6 913.4L1432.3 915.1L1432.9 914.0L1433.6 914.9L1434.2 916.3L1434.9 916.9L1435.5 914.3L1436.2 915.0L1436.8 913.5L1437.5 913.7L1438.1 916.5L1438.8 915.3L1439.4 913.3L1440.1 917.4L1440.7 915.4L1441.4 916.4L1442.0 917.7L1442.7 917.9L1443.3 917.3L1444.0 914.4L1444.6 918.6L1445.3 916.9L1445.9 915.8L1446.6 914.6L1447.2 920.5L1447.9 918.7L1448.5 918.8L1449.2 919.7L1449.8 918.7L1450.5 916.6L1451.1 920.2L1451.8 920.8L1452.4 920.1L1453.1 921.9L1453.7 922.6L1454.4 918.3L1455.0 919.0L1455.7 921.2L1456.3 920.2L1457.0 920.3L1457.6 921.6L1458.3 921.3L1458.9 919.5L1459.6 920.5L1460.2 919.3L1460.9 920.2L1461.5 918.8L1462.2 917.5L1462.8 920.0L1463.5 919.9L1464.1 922.3L1464.8 923.5L1465.4 921.1L1466.1 921.9L1466.7 920.2L1467.4 919.8L1468.0 920.9L1468.7 921.0L1469.3 922.0L1470.0 921.8L1470.6 924.4L1471.3 921.5L1471.9 919.2L1472.6 922.2L1473.2 921.0L1473.9 922.5L1474.5 924.0L1475.2 921.3L1475.8 922.3L1476.5 923.3L1477.1 921.1L1477.8 923.0L1478.4 923.6L1479.1 924.1L1479.7 924.7L1480.4 923.9L1481.0 923.7L1481.7 921.0L1482.3 919.1L1483.0 921.9L1483.6 925.8L1484.3 923.8L1484.9 920.2L1485.6 923.2L1486.2 924.5L1486.9 921.1L1487.5 925.0L1488.2 922.4L1488.8 926.0L1489.5 924.5L1490.1 929.4L1490.8 922.5L1491.4 925.2L1492.1 922.5L1492.7 926.8L1493.4 925.2L1494.0 926.6L1494.7 925.4L1495.3 923.5L1496.0 924.4L1496.6 923.6L1497.3 924.0L1497.9 925.9L1498.6 927.5L1499.2 927.2L1499.9 926.7L1500.5 925.1L1501.2 926.9L1501.8 924.8L1502.5 926.6L1503.1 927.6L1503.8 926.1L1504.4 925.7L1505.1 925.8L1505.7 927.5L1506.4 926.1L1507.0 924.4L1507.7 926.1L1508.3 925.1L1509.0 929.2L1509.6 926.9L1510.3 924.6L1510.9 927.4L1511.6 928.1L1512.2 927.6L1512.9 926.5L1513.5 927.4L1514.2 927.6L1514.8 928.8L1515.5 927.8L1516.1 930.8L1516.8 927.0L1517.4 929.8L1518.1 927.4L1518.7 924.8L1519.4 925.7L1520.0 924.7L1520.7 924.9L1521.3 929.5L1522.0 926.6L1522.6 928.6L1523.3 926.3L1523.9 927.7L1524.6 926.2L1525.2 929.2L1525.9 927.5L1526.5 927.2L1527.2 927.7L1527.8 931.4L1528.5 928.8L1529.1 929.4L1529.8 926.2L1530.4 927.2L1531.1 928.8L1531.7 925.5L1532.4 930.5L1533.0 928.9L1533.7 928.5L1534.3 928.3L1535.0 928.3L1535.6 927.9L1536.3 931.0L1536.9 929.9L1537.6 930.9L1538.2 928.5L1538.9 927.7L1539.5 931.3L1540.2 927.3L1540.8 928.4L1541.5 930.5L1542.1 931.2L1542.8 927.5L1543.4 929.2L1544.1 929.8L1544.7 929.6L1545.4 928.5L1546.0 931.0L1546.7 929.2L1547.3 929.8L1548.0 926.7L1548.6 930.1L1549.3 927.4L1549.9 931.6L1550.6 931.3L1551.2 929.9L1551.9 931.0L1552.5 931.0L1553.2 930.7L1553.8 931.6L1554.5 930.9L1555.1 930.4L1555.8 930.0L1556.4 933.9L1557.1 931.7L1557.7 931.5L1558.4 932.7L1559.0 931.1L1559.7 931.2L1560.3 932.9L1561.0 933.5L1561.6 933.0L1562.3 929.8L1562.9 932.3L1563.6 932.2L1564.2 933.0L1564.9 931.1L1565.5 930.9L1566.2 932.4L1566.8 931.3L1567.5 931.1L1568.1 932.7L1568.8 934.3L1569.4 933.2L1570.1 934.8L1570.7 931.6L1571.4 934.3L1572.0 933.3L1572.7 932.1L1573.3 932.8L1574.0 932.3L1574.6 933.3L1575.3 932.6L1575.9 935.7L1576.6 933.4L1577.2 931.8L1577.9 933.8L1578.5 934.7L1579.2 933.7L1579.8 935.6L1580.5 933.0L1581.1 933.2L1581.8 937.0L1582.4 934.7L1583.1 935.6L1583.7 935.6L1584.4 935.8L1585.0 935.0L1585.7 934.8L1586.3 936.8L1587.0 934.5L1587.6 935.5L1588.3 936.4L1588.9 934.9L1589.6 933.2L1590.2 936.3L1590.9 937.3L1591.5 936.2L1592.2 933.3L1592.8 936.9L1593.5 939.0L1594.1 933.7L1594.8 932.1L1595.4 935.9L1596.1 936.4L1596.7 937.5L1597.4 937.7L1598.0 936.6L1598.7 937.4L1599.3 937.1L1600.0 936.9L1600.6 936.7L1601.3 936.6L1601.9 938.0L1602.6 937.6L1603.2 936.4L1603.9 938.7L1604.5 936.1L1605.2 936.9L1605.8 937.5L1606.5 934.5L1607.1 936.8L1607.8 938.7L1608.4 938.7L1609.1 935.8L1609.7 936.4L1610.4 936.1L1611.0 937.4L1611.7 937.8L1612.3 935.5L1613.0 938.5L1613.6 938.2L1614.3 938.0L1614.9 937.2L1615.6 938.0L1616.2 935.7L1616.9 938.8L1617.5 938.8L1618.2 938.4L1618.8 936.9L1619.5 940.6L1620.1 940.5L1620.8 936.1L1621.4 939.6L1622.1 939.3L1622.7 935.3L1623.4 940.0L1624.0 940.3L1624.7 940.5L1625.3 939.8L1626.0 938.7L1626.6 939.0L1627.3 940.6L1627.9 941.7L1628.6 939.4L1629.2 939.8L1629.9 941.4L1630.5 937.4L1631.2 941.3L1631.8 940.5L1632.5 937.7L1633.1 942.2L1633.8 939.6L1634.4 941.3L1635.1 939.9L1635.7 932.3L1636.4 928.6L1637.0 929.0L1637.7 928.7L1638.3 936.6L1639.0 939.6L1639.6 943.0L1640.3 939.9L1640.9 943.3L1641.6 943.9L1642.2 940.7L1642.9 944.8L1643.5 941.7L1644.2 944.1L1644.8 942.1L1645.5 945.3L1646.1 946.8L1646.8 944.5L1647.4 944.6L1648.1 946.6L1648.7 944.1L1649.4 945.0L1650.0 946.2L1650.7 945.8L1651.3 947.6L1652.0 947.2L1652.6 948.3L1653.3 945.6L1653.9 947.4L1654.6 944.7L1655.2 947.3L1655.9 948.7L1656.5 949.7L1657.2 944.5L1657.8 946.2L1658.5 947.6L1659.1 945.4L1659.8 947.6L1660.4 947.7L1661.1 946.3L1661.7 946.4L1662.4 945.9L1663.0 947.8L1663.7 949.3L1664.3 948.0L1665.0 951.7L1665.6 945.6L1666.3 947.0L1666.9 948.9L1667.6 946.4L1668.2 948.7L1668.9 949.5L1669.5 948.6L1670.2 948.2L1670.8 950.0L1671.5 949.3L1672.1 949.8L1672.8 949.7L1673.4 948.0L1674.1 947.5L1674.7 948.6L1675.4 949.5L1676.0 949.1L1676.7 950.9L1677.3 949.9L1678.0 951.1L1678.6 949.9L1679.3 948.8L1679.9 951.2L1680.6 950.8L1681.2 948.9L1681.9 949.6L1682.5 954.4L1683.2 945.5L1683.8 952.1L1684.5 950.7L1685.1 950.6L1685.8 950.3L1686.4 950.1L1687.1 954.4L1687.7 950.4L1688.4 950.7L1689.0 952.4L1689.7 951.9L1690.3 951.1L1691.0 951.1L1691.6 949.6L1692.3 953.2L1692.9 950.2L1693.6 948.3L1694.2 953.5L1694.9 953.1L1695.5 952.6L1696.2 951.5L1696.8 954.1L1697.5 950.9L1698.1 949.4L1698.8 952.9L1699.4 953.9L1700.1 953.8L1700.7 956.0L1701.4 954.3L1702.0 952.9L1702.7 953.0L1703.3 954.7L1704.0 953.4L1704.6 953.4L1705.3 951.2L1705.9 953.4L1706.6 952.1L1707.2 954.5L1707.9 954.4L1708.5 955.4L1709.2 957.1L1709.8 954.4L1710.5 956.8L1711.1 953.2L1711.8 955.2L1712.4 956.5L1713.1 958.1L1713.7 953.8L1714.4 955.2L1715.0 955.9L1715.7 955.7L1716.3 954.6L1717.0 953.7L1717.6 954.4L1718.3 956.2L1718.9 954.5L1719.6 959.2L1720.2 958.5L1720.9 954.1L1721.5 956.3L1722.2 959.1L1722.8 959.4L1723.5 959.1L1724.1 955.5L1724.8 957.2L1725.4 959.7L1726.1 958.1L1726.7 957.4L1727.4 959.0L1728.0 959.8L1728.7 958.7L1729.3 959.0L1730.0 960.3L1730.6 958.1L1731.3 957.7L1731.9 960.2L1732.6 957.5L1733.2 960.1L1733.9 958.4L1734.5 960.8L1735.2 958.0L1735.8 961.5L1736.5 960.4L1737.1 959.6L1737.8 958.9L1738.4 960.1L1739.1 959.1L1739.7 958.8L1740.4 962.2L1741.0 961.6L1741.7 962.6L1742.3 959.0L1743.0 958.2L1743.6 958.9L1744.3 962.2L1744.9 962.5L1745.6 958.8L1746.2 963.0L1746.9 961.0L1747.5 960.0L1748.2 961.8L1748.8 962.8L1749.5 961.8L1750.1 961.9L1750.8 961.1L1751.4 960.4L1752.1 962.0L1752.7 960.3L1753.4 963.6L1754.0 961.6L1754.7 964.8L1755.3 960.8L1756.0 965.2L1756.6 962.0L1757.3 962.1L1757.9 963.9L1758.6 964.9L1759.2 963.7L1759.9 963.3L1760.5 966.8L1761.2 964.8L1761.8 962.5L1762.5 964.0L1763.1 966.9L1763.8 965.1L1764.4 965.9L1765.1 967.8L1765.7 964.2L1766.4 965.7L1767.0 964.4L1767.7 965.5L1768.3 966.4L1769.0 964.0L1769.6 966.2L1770.3 966.4L1770.9 967.9L1771.6 965.7L1772.2 965.0L1772.9 967.5L1773.5 965.5L1774.2 967.6L1774.8 968.3L1775.5 966.5L1776.1 967.7L1776.8 966.7L1777.4 964.3L1778.1 966.5L1778.7 965.8L1779.4 968.9L1780.0 967.6L1780.7 969.1L1781.3 969.5L1782.0 971.2L1782.6 969.4L1783.3 969.6L1783.9 971.0L1784.6 972.8L1785.2 970.6L1785.9 971.4L1786.5 970.8L1787.2 970.3L1787.8 969.3L1788.5 971.5L1789.1 971.5L1789.8 971.7L1790.4 974.9L1791.1 971.9L1791.7 973.0L1792.4 972.2L1793.0 974.5L1793.7 972.5L1794.3 975.7L1795.0 972.9L1795.6 974.4L1796.3 974.9L1796.9 973.3L1797.6 974.9L1798.2 973.9L1798.9 972.9L1799.5 973.1L1800.2 974.6L1800.8 976.7L1801.5 973.7L1802.1 975.2L1802.8 973.4L1803.4 975.0L1804.1 972.9L1804.7 973.7L1805.4 974.9L1806.0 973.9L1806.7 974.7L1807.3 976.5L1808.0 975.0L1808.6 974.3L1809.3 973.7L1809.9 974.7L1810.6 977.1L1811.2 975.5L1811.9 975.5L1812.5 976.8L1813.2 977.0L1813.8 977.4L1814.5 975.6L1815.1 974.9L1815.8 973.9L1816.4 975.4L1817.1 975.9L1817.7 977.5L1818.4 977.0L1819.0 975.9L1819.7 978.0L1820.3 975.2L1821.0 975.6L1821.6 975.5L1822.3 975.7L1822.9 977.0L1823.6 976.3L1824.2 976.6L1824.9 979.6L1825.5 975.9L1826.2 976.6L1826.8 977.8L1827.5 978.9L1828.1 979.1L1828.8 978.2L1829.4 978.3L1830.1 978.6L1830.7 980.1L1831.4 978.0L1832.0 976.2L1832.7 979.8L1833.3 978.2L1834.0 979.8L1834.6 982.0L1835.3 980.4L1835.9 983.0L1836.6 978.5L1837.2 981.2L1837.9 981.5L1838.5 982.3L1839.2 980.4L1839.8 981.8L1840.5 981.9L1841.1 982.1L1841.8 980.3L1842.4 980.0L1843.1 983.3L1843.7 983.2L1844.4 983.0L1845.0 984.0L1845.7 984.7L1846.3 981.9L1847.0 984.7L1847.6 985.8L1848.3 985.4L1848.9 985.0L1849.6 985.3L1850.2 982.6L1850.9 984.1L1851.5 986.3L1852.2 987.1L1852.8 985.9L1853.5 984.8L1854.1 985.4L1854.8 986.9L1855.4 988.6L1856.1 987.2L1856.7 985.6L1857.4 987.2L1858.0 987.1L1858.7 989.9L1859.3 987.6L1860.0 987.0L1860.6 987.0L1861.3 985.6L1861.9 986.0L1862.6 986.9L1863.2 986.6L1863.9 988.0L1864.5 988.1L1865.2 989.3L1865.8 990.2L1866.5 988.5L1867.1 988.2L1867.8 986.1L1868.4 989.2L1869.1 989.7L1869.7 987.9L1870.4 988.6L1871.0 988.3L1871.7 990.7L1872.3 990.3L1873.0 991.2L1873.6 988.1L1874.3 993.3L1874.9 988.8L1875.6 988.7L1876.2 990.4L1876.9 989.5L1877.5 992.8L1878.2 989.9L1878.8 989.7L1879.5 992.0L1880.1 992.4L1880.8 989.8L1881.4 990.4L1882.1 990.7L1882.7 991.1L1883.4 993.6L1884.0 993.1L1884.7 993.0L1885.3 993.4L1886.0 991.8L1886.6 993.1L1887.3 991.9L1887.9 991.2L1888.6 994.4L1889.2 990.0L1889.9 992.5L1890.5 991.8L1891.2 990.5L1891.8 992.3L1892.5 993.0L1893.1 993.6L1893.8 992.0L1894.4 994.2L1895.1 993.7L1895.7 994.4L1896.4 991.0L1897.0 993.0L1897.7 992.9L1898.3 994.5L1899.0 992.9L1899.6 993.3L1900.3 992.6L1900.9 992.6L1901.6 993.1L1902.2 995.6L1902.9 993.1L1903.5 991.4L1904.2 995.0L1904.8 994.2L1905.5 995.6L1906.1 995.6L1906.8 994.6L1907.4 994.6L1908.1 994.5L1908.7 995.3L1909.4 994.4L1910.0 995.7L1910.7 997.3L1911.3 994.8L1912.0 994.9L1912.6 995.0L1913.3 996.7L1913.9 996.8L1914.6 997.9L1915.2 997.1L1915.9 996.4L1916.5 996.9L1917.2 994.7L1917.8 997.2L1918.5 996.8L1919.1 999.4L1919.8 998.6L1920.4 995.8L1921.1 996.2L1921.7 998.2L1922.4 994.5L1923.0 996.0L1923.7 997.8L1924.3 998.2L1925.0 997.7L1925.6 999.1L1926.3 997.3L1926.9 997.9L1927.6 997.6L1928.2 996.5L1928.9 998.1L1929.5 997.4L1930.2 998.3L1930.8 995.0L1931.5 998.5L1932.1 997.8L1932.8 997.8L1933.4 998.8L1934.1 998.2L1934.7 1000.1L1935.4 1000.6L1936.0 1000.2L1936.7 1000.4L1937.3 999.8L1938.0 999.4L1938.6 997.9L1939.3 999.1L1939.9 1001.3L1940.6 1000.8L1941.2 999.3L1941.9 1000.2L1942.5 1001.5L1943.2 1000.1L1943.8 1002.5L1944.5 999.5L1945.1 1001.6L1945.8 1001.6L1946.4 1001.1L1947.1 1001.4L1947.7 1001.8L1948.4 998.3L1949.0 1001.9L1949.7 1002.9L1950.3 1002.1L1951.0 1003.1L1951.6 1000.3L1952.3 1001.8L1952.9 1002.5L1953.6 1001.8L1954.2 1003.8L1954.9 1003.0L1955.5 1001.9L1956.2 1003.7L1956.8 1003.8L1957.5 1002.3L1958.1 1003.8L1958.8 1003.6L1959.4 1003.7L1960.1 1001.8L1960.7 1005.1L1961.4 1004.4L1962.0 1003.7L1962.7 1004.3L1963.3 1004.4L1964.0 1003.7L1964.6 1003.5L1965.3 1004.5L1965.9 1003.7L1966.6 1004.0L1967.2 1003.2L1967.9 1004.5L1968.5 1006.2L1969.2 1005.3L1969.8 1005.2L1970.5 1004.9L1971.1 1004.9L1971.8 1003.6L1972.4 1007.7L1973.1 1004.8L1973.7 1004.0L1974.4 1006.5L1975.0 1006.4L1975.7 1005.6L1976.3 1004.5L1977.0 1004.7L1977.6 1008.5L1978.3 1006.5L1978.9 1005.9L1979.6 1009.2L1980.2 1006.3L1980.9 1005.9L1981.5 1007.9L1982.2 1007.8L1982.8 1009.4L1983.5 1005.6L1984.1 1008.0L1984.8 1005.7L1985.4 1008.5L1986.1 1007.2L1986.7 1007.6L1987.4 1007.3L1988.0 1009.4L1988.7 1010.5L1989.3 1008.5L1990.0 1008.4L1990.6 1008.2L1991.3 1009.6L1991.9 1007.8L1992.6 1013.6L1993.2 1009.0L1993.9 1011.5L1994.5 1009.7L1995.2 1007.9L1995.8 1007.8L1996.5 1009.3L1997.1 1009.0L1997.8 1009.7L1998.4 1008.7L1999.1 1013.2L1999.7 1013.0L2000.4 1008.2L2001.0 1011.2L2001.7 1012.1L2002.3 1010.3L2003.0 1010.6L2003.6 1012.3L2004.3 1011.7L2004.9 1009.6L2005.6 1012.8L2006.2 1010.7L2006.9 1013.7L2007.5 1010.3L2008.2 1008.8L2008.8 1011.8L2009.5 1013.3L2010.1 1012.5L2010.8 1012.1L2011.4 1010.9L2012.1 1013.2L2012.7 1009.9L2013.4 1013.2L2014.0 1010.8L2014.7 1011.6L2015.3 1010.8L2016.0 1011.4L2016.6 1014.4L2017.3 1011.2L2017.9 1012.9L2018.6 1011.8L2019.2 1014.1L2019.9 1011.2L2020.5 1012.9L2021.2 1014.1L2021.8 1015.8L2022.5 1011.6L2023.1 1012.1L2023.8 1013.1L2024.4 1015.1L2025.1 1012.0L2025.7 1014.4L2026.4 1012.6L2027.0 1012.2L2027.7 1011.5L2028.3 1013.7L2029.0 1014.8L2029.6 1013.5L2030.3 1011.1L2030.9 1013.1L2031.6 1015.0L2032.2 1014.9L2032.9 1014.2L2033.5 1015.8L2034.2 1012.4L2034.8 1012.5L2035.5 1017.0L2036.1 1015.0L2036.8 1013.9L2037.4 1013.6L2038.1 1011.1L2038.7 1015.4L2039.4 1011.8L2040.0 1012.0L2040.7 1014.4L2041.3 1016.4L2042.0 1014.1L2042.6 1015.1L2043.3 1014.1L2043.9 1015.2L2044.6 1012.7L2045.2 1017.4L2045.9 1013.6L2046.5 1015.6L2047.2 1012.4L2047.8 1017.2L2048.5 1015.6L2049.1 1017.6L2049.8 1014.3L2050.4 1016.5L2051.1 1015.0L2051.7 1015.2L2052.4 1016.9L2053.0 1014.3L2053.7 1016.4L2054.3 1017.9L2055.0 1017.7L2055.6 1016.9L2056.3 1016.1L2056.9 1014.5L2057.6 1017.5L2058.2 1015.0L2058.9 1017.3L2059.5 1015.5L2060.2 1016.0L2060.8 1016.0L2061.5 1016.8L2062.1 1015.6L2062.8 1016.4L2063.4 1015.6L2064.1 1016.9L2064.7 1016.7L2065.4 1016.9L2066.0 1015.4L2066.7 1016.9L2067.3 1016.6L2068.0 1017.3L2068.6 1016.7L2069.3 1015.4L2069.9 1017.6L2070.6 1015.9L2071.2 1017.1L2071.9 1014.3L2072.5 1017.5L2073.2 1017.8L2073.8 1015.9L2074.5 1017.8L2075.1 1016.6L2075.8 1018.8L2076.4 1018.0L2077.1 1015.7L2077.7 1017.0L2078.4 1015.2L2079.0 1017.0L2079.7 1018.1L2080.3 1018.5L2081.0 1017.4L2081.6 1017.3L2082.3 1017.9L2082.9 1017.0L2083.6 1018.2L2084.2 1019.2L2084.9 1018.1L2085.5 1019.0L2086.2 1017.0L2086.8 1017.4L2087.5 1018.5L2088.1 1020.7L2088.8 1019.5L2089.4 1020.4L2090.1 1018.4L2090.7 1019.9L2091.4 1016.4L2092.0 1019.2L2092.7 1016.1L2093.3 1020.2L2094.0 1019.3L2094.6 1020.2L2095.3 1019.4L2095.9 1018.3L2096.6 1018.1L2097.2 1019.3L2097.9 1021.0L2098.5 1020.0L2099.2 1018.6L2099.8 1018.6L2100.5 1018.5L2101.1 1019.2L2101.8 1019.4L2102.4 1019.0L2103.1 1019.7L2103.7 1017.8L2104.4 1021.7L2105.0 1020.2L2105.7 1021.8L2106.3 1020.4L2107.0 1019.9L2107.6 1020.3L2108.3 1020.5L2108.9 1019.5L2109.6 1020.0L2110.2 1022.8L2110.9 1021.7L2111.5 1020.0L2112.2 1021.3L2112.8 1019.8L2113.5 1022.6L2114.1 1019.7L2114.8 1022.1L2115.4 1021.1L2116.1 1021.2L2116.7 1020.3L2117.4 1021.0L2118.0 1020.5L2118.7 1020.5L2119.3 1022.1L2120.0 1024.7L2120.6 1021.3L2121.3 1023.0L2121.9 1021.9L2122.6 1021.1L2123.2 1023.7L2123.9 1022.9L2124.5 1023.6L2125.2 1022.5L2125.8 1022.6L2126.5 1021.5L2127.1 1022.2L2127.8 1024.7L2128.4 1020.0L2129.1 1023.3L2129.7 1024.7L2130.4 1024.0L2131.0 1024.1L2131.7 1022.9L2132.3 1024.6L2133.0 1024.7L2133.6 1023.4L2134.3 1025.5L2134.9 1023.0L2135.6 1020.7L2136.2 1023.8L2136.9 1023.8L2137.5 1023.0" fill="none" stroke="#ff8c10" stroke-width="1.8" stroke-dasharray="24 10"/>
<path d="M352.0 503.7L352.6 505.3L353.3 505.2L353.9 502.8L354.6 507.7L355.2 507.4L355.9 506.0L356.5 508.6L357.2 508.7L357.8 509.0L358.5 509.0L359.1 510.4L359.8 508.4L360.4 509.9L361.1 509.7L361.7 512.1L362.4 511.4L363.0 511.2L363.7 510.6L364.3 511.9L365.0 512.8L365.6 512.6L366.3 515.8L366.9 515.6L367.6 509.1L368.2 510.9L368.9 514.4L369.5 514.2L370.2 515.7L370.8 516.0L371.5 519.8L372.1 514.2L372.8 515.9L373.4 520.6L374.1 518.4L374.7 518.7L375.4 516.9L376.0 515.1L376.7 518.8L377.3 519.0L378.0 516.8L378.6 518.1L379.3 519.5L379.9 518.2L380.6 520.1L381.2 520.7L381.9 520.9L382.5 520.2L383.2 522.5L383.8 523.3L384.5 522.5L385.1 520.7L385.8 523.8L386.4 521.8L387.1 524.6L387.7 521.3L388.4 525.1L389.0 523.7L389.7 521.7L390.3 523.6L391.0 524.5L391.6 525.1L392.3 523.0L392.9 523.0L393.6 525.6L394.2 524.6L394.9 526.0L395.5 527.1L396.2 523.0L396.8 526.5L397.5 528.5L398.1 525.9L398.8 525.1L399.4 528.1L400.1 527.4L400.7 528.7L401.4 526.6L402.0 524.7L402.7 527.3L403.3 526.9L404.0 529.2L404.6 528.3L405.3 525.2L405.9 526.1L406.6 529.9L407.2 529.7L407.9 527.5L408.5 528.7L409.2 529.6L409.8 529.8L410.5 530.6L411.1 529.6L411.8 529.1L412.4 528.9L413.1 531.3L413.7 525.5L414.4 529.3L415.0 529.7L415.7 527.2L416.3 530.4L417.0 528.7L417.6 531.5L418.3 529.8L418.9 531.2L419.6 532.3L420.2 530.9L420.9 528.7L421.5 527.6L422.2 533.5L422.8 530.2L423.5 529.2L424.1 530.8L424.8 530.2L425.4 532.1L426.1 530.7L426.7 530.8L427.4 529.5L428.0 531.7L428.7 529.0L429.3 532.1L430.0 533.6L430.6 528.3L431.3 526.6L431.9 532.1L432.6 535.6L433.2 529.3L433.9 528.9L434.5 532.1L435.2 529.6L435.8 530.2L436.5 530.5L437.1 532.0L437.8 530.4L438.4 531.5L439.1 530.7L439.7 529.5L440.4 530.4L441.0 529.2L441.7 530.9L442.3 528.8L443.0 528.8L443.6 533.2L444.3 530.5L444.9 530.4L445.6 531.3L446.2 529.6L446.9 529.8L447.5 530.9L448.2 530.5L448.8 527.9L449.5 531.3L450.1 528.7L450.8 527.7L451.4 527.9L452.1 528.7L452.7 532.1L453.4 527.0L454.0 529.3L454.7 525.0L455.3 528.7L456.0 530.2L456.6 528.0L457.3 527.2L457.9 528.5L458.6 529.2L459.2 528.9L459.9 531.0L460.5 527.6L461.2 525.9L461.8 526.5L462.5 526.3L463.1 526.3L463.8 525.7L464.4 525.8L465.1 522.1L465.7 526.3L466.4 523.4L467.0 521.9L467.7 524.8L468.3 525.6L469.0 523.7L469.6 522.7L470.3 520.3L470.9 526.8L471.6 522.8L472.2 518.7L472.9 518.9L473.5 520.0L474.2 516.6L474.8 519.3L475.5 517.8L476.1 520.4L476.8 519.5L477.4 512.4L478.1 517.0L478.7 513.6L479.4 518.2L480.0 516.0L480.7 516.3L481.3 512.9L482.0 517.8L482.6 517.7L483.3 511.6L483.9 513.8L484.6 511.4L485.2 512.1L485.9 509.3L486.5 514.7L487.2 508.9L487.8 509.6L488.5 510.6L489.1 507.9L489.8 508.2L490.4 507.0L491.1 507.2L491.7 504.7L492.4 505.5L493.0 505.3L493.7 504.5L494.3 504.6L495.0 503.2L495.6 504.5L496.3 501.7L496.9 501.3L497.6 499.5L498.2 499.0L498.9 496.7L499.5 499.3L500.2 495.2L500.8 495.1L501.5 496.3L502.1 495.5L502.8 493.0L503.4 488.9L504.1 492.7L504.7 491.4L505.4 487.2L506.0 490.4L506.7 486.6L507.3 484.7L508.0 486.1L508.6 484.6L509.3 484.3L509.9 479.8L510.6 485.5L511.2 479.8L511.9 476.9L512.5 480.2L513.2 477.3L513.8 477.6L514.5 475.2L515.1 474.7L515.8 474.2L516.4 471.2L517.1 472.9L517.7 469.5L518.4 467.6L519.0 468.4L519.7 468.1L520.3 465.7L521.0 463.3L521.6 465.3L522.3 459.4L522.9 459.9L523.6 461.1L524.2 457.3L524.9 459.2L525.5 458.1L526.2 459.1L526.8 454.5L527.5 454.2L528.1 455.3L528.8 448.5L529.4 459.2L530.1 450.4L530.7 449.4L531.4 451.8L532.0 449.0L532.7 444.4L533.3 448.5L534.0 448.0L534.6 444.2L535.3 443.5L535.9 444.1L536.6 440.1L537.2 441.8L537.9 440.2L538.5 437.2L539.2 434.5L539.8 435.9L540.5 433.3L541.1 436.2L541.8 433.2L542.4 433.4L543.1 430.8L543.7 429.9L544.4 426.5L545.0 428.5L545.7 429.8L546.3 424.0L547.0 422.2L547.6 422.0L548.3 420.1L548.9 418.4L549.6 419.1L550.2 417.0L550.9 419.7L551.5 415.3L552.2 414.8L552.8 415.0L553.5 411.0L554.1 413.7L554.8 407.8L555.4 406.1L556.1 405.9L556.7 405.2L557.4 401.0L558.0 402.9L558.7 397.9L559.3 403.6L560.0 398.9L560.6 396.3L561.3 394.3L561.9 394.1L562.6 392.9L563.2 389.5L563.9 388.1L564.5 388.0L565.2 385.5L565.8 387.0L566.5 385.6L567.1 381.1L567.8 380.2L568.4 374.0L569.1 376.9L569.7 373.5L570.4 373.0L571.0 374.0L571.7 363.1L572.3 367.8L573.0 363.1L573.6 365.9L574.3 359.9L574.9 360.6L575.6 361.1L576.2 360.9L576.9 358.4L577.5 355.1L578.2 354.6L578.8 357.0L579.5 353.7L580.1 348.5L580.8 353.7L581.4 351.5L582.1 351.6L582.7 347.5L583.4 349.3L584.0 343.5L584.7 346.5L585.3 342.7L586.0 344.5L586.6 344.2L587.3 338.6L587.9 339.1L588.6 338.1L589.2 339.8L589.9 337.4L590.5 331.1L591.2 334.2L591.8 333.6L592.5 335.9L593.1 324.8L593.8 326.4L594.4 329.9L595.1 321.6L595.7 320.7L596.4 323.9L597.0 323.8L597.7 318.1L598.3 319.9L599.0 317.5L599.6 319.8L600.3 314.5L600.9 315.8L601.6 309.5L602.2 310.0L602.9 309.0L603.5 310.9L604.2 308.1L604.8 303.3L605.5 305.8L606.1 304.8L606.8 301.1L607.4 299.5L608.1 298.4L608.7 293.0L609.4 296.9L610.0 295.7L610.7 291.5L611.3 294.6L612.0 287.5L612.6 288.5L613.3 287.4L613.9 292.9L614.6 281.8L615.2 286.4L615.9 286.2L616.5 283.3L617.2 284.2L617.8 276.8L618.5 271.9L619.1 279.1L619.8 272.2L620.4 273.3L621.1 269.5L621.7 274.4L622.4 272.5L623.0 266.6L623.7 269.9L624.3 266.3L625.0 264.1L625.6 263.3L626.3 261.1L626.9 262.0L627.6 259.7L628.2 256.3L628.9 258.7L629.5 252.6L630.2 253.6L630.8 252.5L631.5 253.9L632.1 246.6L632.8 251.5L633.4 245.2L634.1 242.2L634.7 238.7L635.4 240.2L636.0 236.4L636.7 230.9L637.3 228.7L638.0 228.5L638.6 226.4L639.3 230.2L639.9 229.9L640.6 227.4L641.2 224.9L641.9 221.6L642.5 222.2L643.2 223.9L643.8 226.9L644.5 222.5L645.1 218.2L645.8 218.5L646.4 216.3L647.1 214.7L647.7 215.9L648.4 216.5L649.0 220.9L649.7 214.8L650.3 218.2L651.0 218.8L651.6 213.0L652.3 216.9L652.9 213.5L653.6 209.3L654.2 210.7L654.9 209.2L655.5 207.7L656.2 207.1L656.8 207.5L657.5 207.7L658.1 202.9L658.8 204.9L659.4 199.6L660.1 204.4L660.7 204.8L661.4 202.7L662.0 202.4L662.7 202.6L663.3 198.0L664.0 198.6L664.6 200.2L665.3 201.0L665.9 198.4L666.6 204.4L667.2 195.4L667.9 198.0L668.5 198.1L669.2 192.9L669.8 190.0L670.5 188.0L671.1 191.4L671.8 193.5L672.4 190.0L673.1 188.8L673.7 186.2L674.4 188.2L675.0 178.8L675.7 185.4L676.3 183.8L677.0 178.5L677.6 188.9L678.3 176.7L678.9 176.8L679.6 175.5L680.2 182.0L680.9 174.8L681.5 179.0L682.2 177.9L682.8 176.1L683.5 170.3L684.1 171.8L684.8 178.4L685.4 168.2L686.1 169.0L686.7 170.5L687.4 172.9L688.0 170.5L688.7 171.4L689.3 164.9L690.0 170.7L690.6 168.8L691.3 161.2L691.9 170.7L692.6 172.5L693.2 162.0L693.9 164.1L694.5 167.9L695.2 158.0L695.8 155.8L696.5 157.5L697.1 159.4L697.8 158.8L698.4 162.2L699.1 160.7L699.7 155.3L700.4 160.9L701.0 164.8L701.7 162.2L702.3 161.1L703.0 157.6L703.6 160.3L704.3 153.6L704.9 158.8L705.6 155.7L706.2 159.3L706.9 156.8L707.5 151.3L708.2 155.0L708.8 158.2L709.5 150.2L710.1 151.7L710.8 150.7L711.4 148.0L712.1 155.8L712.7 156.7L713.4 154.8L714.0 152.7L714.7 151.6L715.3 152.3L716.0 149.0L716.6 154.2L717.3 154.6L717.9 154.1L718.6 149.2L719.2 151.2L719.9 150.4L720.5 156.8L721.2 151.5L721.8 144.7L722.5 152.3L723.1 157.2L723.8 153.3L724.4 154.1L725.1 151.3L725.7 144.8L726.4 145.4L727.0 147.4L727.7 151.2L728.3 152.7L729.0 154.1L729.6 150.8L730.3 155.2L730.9 151.2L731.6 150.0L732.2 155.2L732.9 149.5L733.5 143.7L734.2 149.4L734.8 153.5L735.5 143.3L736.1 152.6L736.8 153.0L737.4 149.8L738.1 150.0L738.7 153.8L739.4 153.9L740.0 160.3L740.7 157.8L741.3 151.9L742.0 154.8L742.6 160.3L743.3 164.7L743.9 160.2L744.6 160.5L745.2 166.0L745.9 160.3L746.5 159.8L747.2 156.6L747.8 159.9L748.5 169.0L749.1 157.7L749.8 162.7L750.4 158.4L751.1 163.7L751.7 166.5L752.4 163.1L753.0 166.6L753.7 166.9L754.3 166.3L755.0 170.7L755.6 168.0L756.3 164.8L756.9 163.8L757.6 163.6L758.2 168.2L758.9 165.9L759.5 176.0L760.2 173.5L760.8 167.1L761.5 167.0L762.1 173.8L762.8 162.6L763.4 167.5L764.1 172.3L764.7 166.6L765.4 168.3L766.0 169.0L766.7 172.6L767.3 171.2L768.0 172.3L768.6 173.3L769.3 171.8L769.9 175.5L770.6 169.9L771.2 168.0L771.9 167.2L772.5 168.0L773.2 171.7L773.8 177.1L774.5 174.7L775.1 172.5L775.8 171.3L776.4 173.3L777.1 174.0L777.7 173.8L778.4 171.4L779.0 174.7L779.7 179.8L780.3 169.9L781.0 176.4L781.6 170.7L782.3 178.4L782.9 175.8L783.6 171.8L784.2 179.1L784.9 185.0L785.5 179.9L786.2 183.6L786.8 180.0L787.5 173.7L788.1 182.5L788.8 180.0L789.4 177.1L790.1 184.6L790.7 183.4L791.4 181.3L792.0 186.1L792.7 181.1L793.3 186.3L794.0 181.7L794.6 186.8L795.3 182.1L795.9 190.8L796.6 187.4L797.2 191.6L797.9 184.9L798.5 186.5L799.2 191.2L799.8 180.4L800.5 186.1L801.1 193.2L801.8 192.0L802.4 194.1L803.1 190.5L803.7 193.8L804.4 190.2L805.0 188.7L805.7 188.2L806.3 192.3L807.0 192.8L807.6 193.0L808.3 184.4L808.9 189.8L809.6 194.8L810.2 197.9L810.9 195.7L811.5 195.3L812.2 191.3L812.8 205.3L813.5 196.1L814.1 205.3L814.8 205.4L815.4 201.9L816.1 199.8L816.7 202.5L817.4 199.1L818.0 204.0L818.7 203.7L819.3 205.9L820.0 207.8L820.6 210.7L821.3 204.8L821.9 209.7L822.6 204.7L823.2 204.9L823.9 206.4L824.5 205.9L825.2 212.5L825.8 212.9L826.5 214.6L827.1 211.2L827.8 212.8L828.4 210.8L829.1 209.7L829.7 215.2L830.4 215.3L831.0 211.8L831.7 217.6L832.3 211.2L833.0 216.6L833.6 215.9L834.3 216.9L834.9 215.9L835.6 222.8L836.2 222.3L836.9 224.9L837.5 222.4L838.2 218.8L838.8 222.4L839.5 220.7L840.1 226.4L840.8 229.5L841.4 227.7L842.1 225.7L842.7 227.2L843.4 229.8L844.0 225.7L844.7 231.2L845.3 232.1L846.0 230.7L846.6 231.8L847.3 234.2L847.9 232.0L848.6 232.6L849.2 238.0L849.9 236.9L850.5 241.8L851.2 234.5L851.8 232.7L852.5 241.3L853.1 241.9L853.8 237.4L854.4 235.7L855.1 240.4L855.7 235.9L856.4 240.5L857.0 235.6L857.7 241.8L858.3 236.7L859.0 242.7L859.6 248.3L860.3 243.6L860.9 247.1L861.6 243.4L862.2 243.2L862.9 241.9L863.5 249.7L864.2 247.0L864.8 252.4L865.5 244.8L866.1 248.1L866.8 249.5L867.4 253.9L868.1 255.6L868.7 249.0L869.4 248.2L870.0 247.0L870.7 256.5L871.3 253.1L872.0 252.1L872.6 254.5L873.3 248.0L873.9 251.1L874.6 259.5L875.2 258.7L875.9 258.8L876.5 256.4L877.2 261.8L877.8 266.1L878.5 258.5L879.1 263.0L879.8 262.7L880.4 265.9L881.1 266.0L881.7 266.5L882.4 265.5L883.0 269.0L883.7 268.4L884.3 270.8L885.0 272.1L885.6 275.2L886.3 272.9L886.9 274.7L887.6 279.7L888.2 277.3L888.9 278.3L889.5 282.5L890.2 282.0L890.8 282.6L891.5 284.0L892.1 281.1L892.8 286.9L893.4 290.4L894.1 289.4L894.7 284.6L895.4 290.7L896.0 288.5L896.7 291.4L897.3 293.4L898.0 290.9L898.6 298.9L899.3 296.1L899.9 299.6L900.6 300.2L901.2 303.3L901.9 304.0L902.5 298.0L903.2 303.2L903.8 298.6L904.5 304.3L905.1 308.7L905.8 310.5L906.4 312.8L907.1 309.7L907.7 313.0L908.4 314.0L909.0 318.6L909.7 321.1L910.3 317.7L911.0 330.2L911.6 322.1L912.3 322.9L912.9 327.2L913.6 329.3L914.2 330.5L914.9 329.1L915.5 336.3L916.2 334.3L916.8 339.6L917.5 340.7L918.1 335.4L918.8 337.5L919.4 338.7L920.1 343.1L920.7 343.9L921.4 345.6L922.0 344.0L922.7 348.2L923.3 351.8L924.0 346.0L924.6 350.0L925.3 352.2L925.9 352.3L926.6 353.3L927.2 359.3L927.9 359.2L928.5 359.3L929.2 356.5L929.8 365.2L930.5 361.8L931.1 360.9L931.8 362.8L932.4 363.9L933.1 371.6L933.7 368.4L934.4 369.5L935.0 365.6L935.7 374.1L936.3 371.2L937.0 372.5L937.6 378.1L938.3 376.0L938.9 381.4L939.6 383.4L940.2 377.8L940.9 383.0L941.5 380.9L942.2 385.7L942.8 389.3L943.5 385.2L944.1 393.8L944.8 390.1L945.4 389.3L946.1 392.9L946.7 396.3L947.4 392.4L948.0 396.8L948.7 394.8L949.3 401.9L950.0 400.6L950.6 400.4L951.3 404.9L951.9 400.8L952.6 403.9L953.2 410.1L953.9 406.8L954.5 411.2L955.2 409.7L955.8 408.7L956.5 410.8L957.1 412.6L957.8 412.6L958.4 412.7L959.1 413.9L959.7 413.4L960.4 418.0L961.0 419.7L961.7 421.6L962.3 417.0L963.0 423.8L963.6 423.1L964.3 421.1L964.9 425.5L965.6 428.2L966.2 428.7L966.9 430.2L967.5 431.8L968.2 432.8L968.8 431.9L969.5 428.6L970.1 432.6L970.8 436.1L971.4 435.4L972.1 439.0L972.7 440.3L973.4 439.8L974.0 444.8L974.7 439.7L975.3 444.8L976.0 442.9L976.6 443.2L977.3 447.1L977.9 445.6L978.6 449.7L979.2 446.4L979.9 449.9L980.5 449.0L981.2 451.3L981.8 452.0L982.5 451.4L983.1 456.0L983.8 453.0L984.4 454.5L985.1 459.4L985.7 460.4L986.4 460.7L987.0 460.9L987.7 465.8L988.3 459.5L989.0 461.4L989.6 461.7L990.3 466.4L990.9 466.0L991.6 468.5L992.2 469.0L992.9 467.3L993.5 466.9L994.2 467.3L994.8 474.5L995.5 472.7L996.1 472.7L996.8 471.5L997.4 472.5L998.1 472.8L998.7 473.6L999.4 470.1L1000.0 475.4L1000.7 475.4L1001.3 477.4L1002.0 477.8L1002.6 479.7L1003.3 478.6L1003.9 480.9L1004.6 474.8L1005.2 478.3L1005.9 484.5L1006.5 479.3L1007.2 481.8L1007.8 484.3L1008.5 481.8L1009.1 485.6L1009.8 482.0L1010.4 481.7L1011.1 483.4L1011.7 483.4L1012.4 487.2L1013.0 487.3L1013.7 489.2L1014.3 487.1L1015.0 494.7L1015.6 490.2L1016.3 490.9L1016.9 492.5L1017.6 491.8L1018.2 491.6L1018.9 493.6L1019.5 495.8L1020.2 495.9L1020.8 497.0L1021.5 494.7L1022.1 494.9L1022.8 500.7L1023.4 497.0L1024.1 498.9L1024.7 499.9L1025.4 501.7L1026.0 496.9L1026.7 499.1L1027.3 499.6L1028.0 500.3L1028.6 496.8L1029.3 501.6L1029.9 496.8L1030.6 503.2L1031.2 504.1L1031.9 504.7L1032.5 501.7L1033.2 506.2L1033.8 503.1L1034.5 502.9L1035.1 503.7L1035.8 504.4L1036.4 506.7L1037.1 508.3L1037.7 503.1L1038.4 506.4L1039.0 509.5L1039.7 508.5L1040.3 509.4L1041.0 506.0L1041.6 511.0L1042.3 506.6L1042.9 510.2L1043.6 512.7L1044.2 513.9L1044.9 511.7L1045.5 512.7L1046.2 510.3L1046.8 510.8L1047.5 514.2L1048.1 512.3L1048.8 512.3L1049.4 510.3L1050.1 513.4L1050.7 514.6L1051.4 512.3L1052.0 513.1L1052.7 517.2L1053.3 514.9L1054.0 514.3L1054.6 513.0L1055.3 514.2L1055.9 515.2L1056.6 518.4L1057.2 515.0L1057.9 519.7L1058.5 514.9L1059.2 516.2L1059.8 518.6L1060.5 516.9L1061.1 516.0L1061.8 517.5L1062.4 518.8L1063.1 515.0L1063.7 517.9L1064.4 518.4L1065.0 518.0L1065.7 520.3L1066.3 518.1L1067.0 518.6L1067.6 519.5L1068.3 521.0L1068.9 519.4L1069.6 522.8L1070.2 518.5L1070.9 522.7L1071.5 519.0L1072.2 520.4L1072.8 521.5L1073.5 524.8L1074.1 522.9L1074.8 520.7L1075.4 523.9L1076.1 521.4L1076.7 520.5L1077.4 522.9L1078.0 522.4L1078.7 524.1L1079.3 521.6L1080.0 523.4L1080.6 524.0L1081.3 523.5L1081.9 523.1L1082.6 522.1L1083.2 525.1L1083.9 523.9L1084.5 524.7L1085.2 523.3L1085.8 524.0L1086.5 522.3L1087.1 524.4L1087.8 525.8L1088.4 524.7L1089.1 526.1L1089.7 525.3L1090.4 527.3L1091.0 524.5L1091.7 522.0L1092.3 525.8L1093.0 524.8L1093.6 523.4L1094.3 526.4L1094.9 525.8L1095.6 526.2L1096.2 524.8L1096.9 525.8L1097.5 525.9L1098.2 528.7L1098.8 524.3L1099.5 525.5L1100.1 526.2L1100.8 522.5L1101.4 522.7L1102.1 529.5L1102.7 522.4L1103.4 526.7L1104.0 524.1L1104.7 524.3L1105.3 522.1L1106.0 524.1L1106.6 527.1L1107.3 523.2L1107.9 526.8L1108.6 526.3L1109.2 529.4L1109.9 524.9L1110.5 528.0L1111.2 527.4L1111.8 525.3L1112.5 522.8L1113.1 528.5L1113.8 523.4L1114.4 525.0L1115.1 527.4L1115.7 527.8L1116.4 524.3L1117.0 525.8L1117.7 525.4L1118.3 528.0L1119.0 530.4L1119.6 522.6L1120.3 527.5L1120.9 520.7L1121.6 525.9L1122.2 523.9L1122.9 529.5L1123.5 526.2L1124.2 524.6L1124.8 525.0L1125.5 524.9L1126.1 526.2L1126.8 525.6L1127.4 527.1L1128.1 528.7L1128.7 527.2L1129.4 523.7L1130.0 523.0L1130.7 524.5L1131.3 527.7L1132.0 525.2L1132.6 524.6L1133.3 526.0L1133.9 523.2L1134.6 523.7L1135.2 526.6L1135.9 525.1L1136.5 524.8L1137.2 526.1L1137.8 524.5L1138.5 524.3L1139.1 524.6L1139.8 526.5L1140.4 525.5L1141.1 523.2L1141.7 524.7L1142.4 526.4L1143.0 528.5L1143.7 523.0L1144.3 525.7L1145.0 524.5L1145.6 526.4L1146.3 525.7L1146.9 527.5L1147.6 525.7L1148.2 523.7L1148.9 523.7L1149.5 525.3L1150.2 525.2L1150.8 528.8L1151.5 527.4L1152.1 522.2L1152.8 524.9L1153.4 521.8L1154.1 521.2L1154.7 525.5L1155.4 525.1L1156.0 522.1L1156.7 526.9L1157.3 522.1L1158.0 521.7L1158.6 524.9L1159.3 524.0L1159.9 523.3L1160.6 523.4L1161.2 523.8L1161.9 523.1L1162.5 522.9L1163.2 519.7L1163.8 520.7L1164.5 524.1L1165.1 521.6L1165.8 523.8L1166.4 525.0L1167.1 522.0L1167.7 523.0L1168.4 526.2L1169.0 523.6L1169.7 525.6L1170.3 524.9L1171.0 523.4L1171.6 521.8L1172.3 520.3L1172.9 519.7L1173.6 522.5L1174.2 522.4L1174.9 521.2L1175.5 522.9L1176.2 520.2L1176.8 523.2L1177.5 521.2L1178.1 520.9L1178.8 520.9L1179.4 520.6L1180.1 525.2L1180.7 517.7L1181.4 520.9L1182.0 522.7L1182.7 521.7L1183.3 519.7L1184.0 523.3L1184.6 518.1L1185.3 517.6L1185.9 520.9L1186.6 517.1L1187.2 515.3L1187.9 521.2L1188.5 520.8L1189.2 520.7L1189.8 518.3L1190.5 519.4L1191.1 517.2L1191.8 522.0L1192.4 520.2L1193.1 520.0L1193.7 515.0L1194.4 519.9L1195.0 521.1L1195.7 520.4L1196.3 519.6L1197.0 518.0L1197.6 517.3L1198.3 518.9L1198.9 518.4L1199.6 518.0L1200.2 517.0L1200.9 520.5L1201.5 515.2L1202.2 517.2L1202.8 516.1L1203.5 519.0L1204.1 519.7L1204.8 519.3L1205.4 518.4L1206.1 514.4L1206.7 520.7L1207.4 517.8L1208.0 516.6L1208.7 516.9L1209.3 516.2L1210.0 517.6L1210.6 517.4L1211.3 516.1L1211.9 512.1L1212.6 516.7L1213.2 517.7L1213.9 517.8L1214.5 516.5L1215.2 517.6L1215.8 518.7L1216.5 515.9L1217.1 519.5L1217.8 513.2L1218.4 514.5L1219.1 515.1L1219.7 512.3L1220.4 515.0L1221.0 519.1L1221.7 519.1L1222.3 517.0L1223.0 520.0L1223.6 517.2L1224.3 515.9L1224.9 517.2L1225.6 516.5L1226.2 518.1L1226.9 514.0L1227.5 518.6L1228.2 516.0L1228.8 518.4L1229.5 514.0L1230.1 516.0L1230.8 516.9L1231.4 518.5L1232.1 514.6L1232.7 519.9L1233.4 517.7L1234.0 515.8L1234.7 519.0L1235.3 517.0L1236.0 518.9L1236.6 521.1L1237.3 518.2L1237.9 515.8L1238.6 516.0L1239.2 517.9L1239.9 517.4L1240.5 515.4L1241.2 515.8L1241.8 518.3L1242.5 521.4L1243.1 512.4L1243.8 518.6L1244.4 517.0L1245.1 518.9L1245.7 519.2L1246.4 517.8L1247.0 516.0L1247.7 515.4L1248.3 514.7L1249.0 520.5L1249.6 518.0L1250.3 517.6L1250.9 518.2L1251.6 516.4L1252.2 519.6L1252.9 521.6L1253.5 521.4L1254.2 516.7L1254.8 522.2L1255.5 518.5L1256.1 516.5L1256.8 518.0L1257.4 518.6L1258.1 520.5L1258.7 518.9L1259.4 518.2L1260.0 520.6L1260.7 524.7L1261.3 520.2L1262.0 522.4L1262.6 521.9L1263.3 526.7L1263.9 518.7L1264.6 524.2L1265.2 520.1L1265.9 521.5L1266.5 522.6L1267.2 528.7L1267.8 521.7L1268.5 519.8L1269.1 525.7L1269.8 522.1L1270.4 523.3L1271.1 523.9L1271.7 524.3L1272.4 524.0L1273.0 525.0L1273.7 525.4L1274.3 526.4L1275.0 524.3L1275.6 523.9L1276.3 523.5L1276.9 526.7L1277.6 525.7L1278.2 527.0L1278.9 527.2L1279.5 529.4L1280.2 527.0L1280.8 528.2L1281.5 524.9L1282.1 525.3L1282.8 526.9L1283.4 525.4L1284.1 529.1L1284.7 525.7L1285.4 528.4L1286.0 524.1L1286.7 526.7L1287.3 528.3L1288.0 528.6L1288.6 526.1L1289.3 529.7L1289.9 531.5L1290.6 531.1L1291.2 529.0L1291.9 529.3L1292.5 528.5L1293.2 531.9L1293.8 533.6L1294.5 530.3L1295.1 528.4L1295.8 532.0L1296.4 533.2L1297.1 527.3L1297.7 532.6L1298.4 536.4L1299.0 534.3L1299.7 534.0L1300.3 534.0L1301.0 535.4L1301.6 532.1L1302.3 532.5L1302.9 534.9L1303.6 533.3L1304.2 535.2L1304.9 531.6L1305.5 536.5L1306.2 536.9L1306.8 535.7L1307.5 536.2L1308.1 539.0L1308.8 534.5L1309.4 535.0L1310.1 535.0L1310.7 536.4L1311.4 535.6L1312.0 537.7L1312.7 536.7L1313.3 535.6L1314.0 535.7L1314.6 540.7L1315.3 538.8L1315.9 538.7L1316.6 539.4L1317.2 539.5L1317.9 541.2L1318.5 541.1L1319.2 539.3L1319.8 539.2L1320.5 539.0L1321.1 539.0L1321.8 543.8L1322.4 540.1L1323.1 538.4L1323.7 540.7L1324.4 541.1L1325.0 543.3L1325.7 541.4L1326.3 544.2L1327.0 544.2L1327.6 546.0L1328.3 547.8L1328.9 549.3L1329.6 547.0L1330.2 542.9L1330.9 544.5L1331.5 545.9L1332.2 549.3L1332.8 547.2L1333.5 548.4L1334.1 546.3L1334.8 547.9L1335.4 548.3L1336.1 546.6L1336.7 549.0L1337.4 549.8L1338.0 547.9L1338.7 550.2L1339.3 551.5L1340.0 549.1L1340.6 549.2L1341.3 548.9L1341.9 548.7L1342.6 550.2L1343.2 549.5L1343.9 549.9L1344.5 549.4L1345.2 548.3L1345.8 549.5L1346.5 551.9L1347.1 549.5L1347.8 550.7L1348.4 554.7L1349.1 554.1L1349.7 551.2L1350.4 553.6L1351.0 551.6L1351.7 555.7L1352.3 552.1L1353.0 553.4L1353.6 555.8L1354.3 552.2L1354.9 556.0L1355.6 552.6L1356.2 554.5L1356.9 553.8L1357.5 554.3L1358.2 554.9L1358.8 554.6L1359.5 553.2L1360.1 556.5L1360.8 556.4L1361.4 557.6L1362.1 557.9L1362.7 553.5L1363.4 558.0L1364.0 558.2L1364.7 555.3L1365.3 558.1L1366.0 559.0L1366.6 555.8L1367.3 554.5L1367.9 556.4L1368.6 561.8L1369.2 557.7L1369.9 555.5L1370.5 557.3L1371.2 556.2L1371.8 557.4L1372.5 558.4L1373.1 554.2L1373.8 559.2L1374.4 561.2L1375.1 558.7L1375.7 558.6L1376.4 561.3L1377.0 557.6L1377.7 557.8L1378.3 557.8L1379.0 560.1L1379.6 561.3L1380.3 560.7L1380.9 562.0L1381.6 562.7L1382.2 562.4L1382.9 560.5L1383.5 561.7L1384.2 564.4L1384.8 560.9L1385.5 562.5L1386.1 562.5L1386.8 563.1L1387.4 561.9L1388.1 561.8L1388.7 568.4L1389.4 566.1L1390.0 563.6L1390.7 564.9L1391.3 566.4L1392.0 565.0L1392.6 566.8L1393.3 565.1L1393.9 565.7L1394.6 566.4L1395.2 566.0L1395.9 563.0L1396.5 567.3L1397.2 567.9L1397.8 568.5L1398.5 566.3L1399.1 568.7L1399.8 568.7L1400.4 565.6L1401.1 565.1L1401.7 569.7L1402.4 567.5L1403.0 570.8L1403.7 572.9L1404.3 568.6L1405.0 568.6L1405.6 569.8L1406.3 571.1L1406.9 568.3L1407.6 572.3L1408.2 572.0L1408.9 571.6L1409.5 569.8L1410.2 572.3L1410.8 572.4L1411.5 569.2L1412.1 574.6L1412.8 570.9L1413.4 572.1L1414.1 570.8L1414.7 572.3L1415.4 573.7L1416.0 570.7L1416.7 569.4L1417.3 571.5L1418.0 570.2L1418.6 571.2L1419.3 572.4L1419.9 572.6L1420.6 574.9L1421.2 571.3L1421.9 573.6L1422.5 572.3L1423.2 575.5L1423.8 577.4L1424.5 574.0L1425.1 576.3L1425.8 572.9L1426.4 571.3L1427.1 572.0L1427.7 571.6L1428.4 572.7L1429.0 574.0L1429.7 576.3L1430.3 575.8L1431.0 575.5L1431.6 574.2L1432.3 573.9L1432.9 575.2L1433.6 575.5L1434.2 575.9L1434.9 576.2L1435.5 575.5L1436.2 572.8L1436.8 574.2L1437.5 574.8L1438.1 579.0L1438.8 575.8L1439.4 577.7L1440.1 579.1L1440.7 577.4L1441.4 576.4L1442.0 576.7L1442.7 575.7L1443.3 577.9L1444.0 579.4L1444.6 578.6L1445.3 579.1L1445.9 579.1L1446.6 581.3L1447.2 577.3L1447.9 578.7L1448.5 579.7L1449.2 580.6L1449.8 574.9L1450.5 578.1L1451.1 578.7L1451.8 577.5L1452.4 580.6L1453.1 579.7L1453.7 578.9L1454.4 577.0L1455.0 577.6L1455.7 578.2L1456.3 580.6L1457.0 578.1L1457.6 576.8L1458.3 577.9L1458.9 579.3L1459.6 583.0L1460.2 584.4L1460.9 579.7L1461.5 582.1L1462.2 582.9L1462.8 582.7L1463.5 580.6L1464.1 578.8L1464.8 580.2L1465.4 578.1L1466.1 581.4L1466.7 582.4L1467.4 578.2L1468.0 581.2L1468.7 581.8L1469.3 583.4L1470.0 583.6L1470.6 582.8L1471.3 580.5L1471.9 581.1L1472.6 583.6L1473.2 580.8L1473.9 581.8L1474.5 584.3L1475.2 582.1L1475.8 579.8L1476.5 581.6L1477.1 583.1L1477.8 581.9L1478.4 584.1L1479.1 584.3L1479.7 581.3L1480.4 581.6L1481.0 582.3L1481.7 580.6L1482.3 583.2L1483.0 582.4L1483.6 584.0L1484.3 581.8L1484.9 581.5L1485.6 585.8L1486.2 581.6L1486.9 582.1L1487.5 582.0L1488.2 582.7L1488.8 581.8L1489.5 583.3L1490.1 582.3L1490.8 582.8L1491.4 584.1L1492.1 584.7L1492.7 584.5L1493.4 582.7L1494.0 584.5L1494.7 583.8L1495.3 583.9L1496.0 581.4L1496.6 585.2L1497.3 584.1L1497.9 587.0L1498.6 585.4L1499.2 582.8L1499.9 582.5L1500.5 586.5L1501.2 583.4L1501.8 585.9L1502.5 584.5L1503.1 588.3L1503.8 585.2L1504.4 587.6L1505.1 587.4L1505.7 584.6L1506.4 584.9L1507.0 587.9L1507.7 585.6L1508.3 584.4L1509.0 587.7L1509.6 589.9L1510.3 585.9L1510.9 588.3L1511.6 585.9L1512.2 588.4L1512.9 586.0L1513.5 588.5L1514.2 587.4L1514.8 586.4L1515.5 587.1L1516.1 586.0L1516.8 585.2L1517.4 585.4L1518.1 587.0L1518.7 585.6L1519.4 588.0L1520.0 588.2L1520.7 588.2L1521.3 586.8L1522.0 587.8L1522.6 587.8L1523.3 589.9L1523.9 586.7L1524.6 587.5L1525.2 587.8L1525.9 588.1L1526.5 587.2L1527.2 587.5L1527.8 590.1L1528.5 587.7L1529.1 590.2L1529.8 592.0L1530.4 590.9L1531.1 586.3L1531.7 590.3L1532.4 590.0L1533.0 590.2L1533.7 586.9L1534.3 590.7L1535.0 587.9L1535.6 591.7L1536.3 591.5L1536.9 593.8L1537.6 589.4L1538.2 587.8L1538.9 591.8L1539.5 591.6L1540.2 589.8L1540.8 592.6L1541.5 591.7L1542.1 588.7L1542.8 590.3L1543.4 590.2L1544.1 590.8L1544.7 591.4L1545.4 590.1L1546.0 591.0L1546.7 592.3L1547.3 591.4L1548.0 591.2L1548.6 591.3L1549.3 591.7L1549.9 589.0L1550.6 592.3L1551.2 590.6L1551.9 592.4L1552.5 590.1L1553.2 593.9L1553.8 592.9L1554.5 590.6L1555.1 593.2L1555.8 591.7L1556.4 595.8L1557.1 593.9L1557.7 592.0L1558.4 593.7L1559.0 593.4L1559.7 595.4L1560.3 594.2L1561.0 594.6L1561.6 592.2L1562.3 595.2L1562.9 597.3L1563.6 595.2L1564.2 594.3L1564.9 594.7L1565.5 593.1L1566.2 595.0L1566.8 593.1L1567.5 595.0L1568.1 594.4L1568.8 593.9L1569.4 596.1L1570.1 593.1L1570.7 595.4L1571.4 593.6L1572.0 598.5L1572.7 598.8L1573.3 597.2L1574.0 598.9L1574.6 597.0L1575.3 597.1L1575.9 595.7L1576.6 595.1L1577.2 596.8L1577.9 595.9L1578.5 596.1L1579.2 598.0L1579.8 596.8L1580.5 594.8L1581.1 596.9L1581.8 596.2L1582.4 597.0L1583.1 595.9L1583.7 599.5L1584.4 600.6L1585.0 596.2L1585.7 599.0L1586.3 599.0L1587.0 596.6L1587.6 598.5L1588.3 600.6L1588.9 599.8L1589.6 601.1L1590.2 597.0L1590.9 597.7L1591.5 599.4L1592.2 599.6L1592.8 599.2L1593.5 598.7L1594.1 598.8L1594.8 598.6L1595.4 600.3L1596.1 595.6L1596.7 602.2L1597.4 599.1L1598.0 597.9L1598.7 600.9L1599.3 598.1L1600.0 600.9L1600.6 599.8L1601.3 601.4L1601.9 601.8L1602.6 602.7L1603.2 600.1L1603.9 600.5L1604.5 601.0L1605.2 599.1L1605.8 602.2L1606.5 601.6L1607.1 599.5L1607.8 603.4L1608.4 603.7L1609.1 599.8L1609.7 602.8L1610.4 603.9L1611.0 603.4L1611.7 600.8L1612.3 600.2L1613.0 602.3L1613.6 601.8L1614.3 602.6L1614.9 602.6L1615.6 603.6L1616.2 602.1L1616.9 602.8L1617.5 607.6L1618.2 603.1L1618.8 604.5L1619.5 603.9L1620.1 603.9L1620.8 602.3L1621.4 604.6L1622.1 603.8L1622.7 605.2L1623.4 607.2L1624.0 604.5L1624.7 605.5L1625.3 602.9L1626.0 604.7L1626.6 607.0L1627.3 604.7L1627.9 603.9L1628.6 605.3L1629.2 604.8L1629.9 604.9L1630.5 604.8L1631.2 608.4L1631.8 604.3L1632.5 605.0L1633.1 604.9L1633.8 607.7L1634.4 605.6L1635.1 608.0L1635.7 606.5L1636.4 606.3L1637.0 604.3L1637.7 608.3L1638.3 607.5L1639.0 607.4L1639.6 606.7L1640.3 606.4L1640.9 605.3L1641.6 608.6L1642.2 607.8L1642.9 607.0L1643.5 606.7L1644.2 607.9L1644.8 607.7L1645.5 610.4L1646.1 609.2L1646.8 607.3L1647.4 606.7L1648.1 608.1L1648.7 607.2L1649.4 608.8L1650.0 609.4L1650.7 609.9L1651.3 609.7L1652.0 608.9L1652.6 610.2L1653.3 608.1L1653.9 609.4L1654.6 610.9L1655.2 610.2L1655.9 608.1L1656.5 608.4L1657.2 607.8L1657.8 612.9L1658.5 608.2L1659.1 610.4L1659.8 613.4L1660.4 612.4L1661.1 612.9L1661.7 610.3L1662.4 612.3L1663.0 615.8L1663.7 611.4L1664.3 612.2L1665.0 611.3L1665.6 611.8L1666.3 612.5L1666.9 614.1L1667.6 610.9L1668.2 610.3L1668.9 612.5L1669.5 612.9L1670.2 614.8L1670.8 613.9L1671.5 612.1L1672.1 614.0L1672.8 614.9L1673.4 613.8L1674.1 613.0L1674.7 614.7L1675.4 613.3L1676.0 611.2L1676.7 616.0L1677.3 612.3L1678.0 613.9L1678.6 614.0L1679.3 614.1L1679.9 614.3L1680.6 612.8L1681.2 615.8L1681.9 615.2L1682.5 615.3L1683.2 616.9L1683.8 617.1L1684.5 617.6L1685.1 618.5L1685.8 616.6L1686.4 613.9L1687.1 616.5L1687.7 616.4L1688.4 616.6L1689.0 615.7L1689.7 615.5L1690.3 618.0L1691.0 618.4L1691.6 615.5L1692.3 618.1L1692.9 617.2L1693.6 617.0L1694.2 618.7L1694.9 617.7L1695.5 617.2L1696.2 618.2L1696.8 615.4L1697.5 617.5L1698.1 617.9L1698.8 616.6L1699.4 619.0L1700.1 619.3L1700.7 618.2L1701.4 618.9L1702.0 620.2L1702.7 620.9L1703.3 618.5L1704.0 620.2L1704.6 621.3L1705.3 619.9L1705.9 619.0L1706.6 619.1L1707.2 619.9L1707.9 619.0L1708.5 623.5L1709.2 619.9L1709.8 621.4L1710.5 621.3L1711.1 622.1L1711.8 620.7L1712.4 619.6L1713.1 623.9L1713.7 621.6L1714.4 622.0L1715.0 622.2L1715.7 623.9L1716.3 623.3L1717.0 624.0L1717.6 623.6L1718.3 622.8L1718.9 623.1L1719.6 621.8L1720.2 620.3L1720.9 622.8L1721.5 621.8L1722.2 627.1L1722.8 625.8L1723.5 625.4L1724.1 623.1L1724.8 626.9L1725.4 621.7L1726.1 622.6L1726.7 623.3L1727.4 623.2L1728.0 624.9L1728.7 625.1L1729.3 627.6L1730.0 626.5L1730.6 626.9L1731.3 625.9L1731.9 625.3L1732.6 624.7L1733.2 623.7L1733.9 624.7L1734.5 625.5L1735.2 627.3L1735.8 624.0L1736.5 624.6L1737.1 626.9L1737.8 625.3L1738.4 627.4L1739.1 626.5L1739.7 626.2L1740.4 625.5L1741.0 627.4L1741.7 626.6L1742.3 626.9L1743.0 627.1L1743.6 628.4L1744.3 628.4L1744.9 626.0L1745.6 628.3L1746.2 629.2L1746.9 630.3L1747.5 630.1L1748.2 629.4L1748.8 627.7L1749.5 628.4L1750.1 630.9L1750.8 628.8L1751.4 631.3L1752.1 631.8L1752.7 628.8L1753.4 631.0L1754.0 630.4L1754.7 633.5L1755.3 632.0L1756.0 630.3L1756.6 631.7L1757.3 630.1L1757.9 631.3L1758.6 632.0L1759.2 632.1L1759.9 632.5L1760.5 631.0L1761.2 629.8L1761.8 632.1L1762.5 631.5L1763.1 632.0L1763.8 636.0L1764.4 634.9L1765.1 633.2L1765.7 631.7L1766.4 632.1L1767.0 634.5L1767.7 635.7L1768.3 634.0L1769.0 634.8L1769.6 635.1L1770.3 636.4L1770.9 632.6L1771.6 635.5L1772.2 636.1L1772.9 637.0L1773.5 636.5L1774.2 634.6L1774.8 635.5L1775.5 634.4L1776.1 637.0L1776.8 637.2L1777.4 637.8L1778.1 636.0L1778.7 635.9L1779.4 639.7L1780.0 638.1L1780.7 640.4L1781.3 638.9L1782.0 636.5L1782.6 639.7L1783.3 640.5L1783.9 638.4L1784.6 636.7L1785.2 640.3L1785.9 639.5L1786.5 640.2L1787.2 636.4L1787.8 640.8L1788.5 636.7L1789.1 639.5L1789.8 642.0L1790.4 638.6L1791.1 638.7L1791.7 640.8L1792.4 643.8L1793.0 643.9L1793.7 641.1L1794.3 643.5L1795.0 643.1L1795.6 642.9L1796.3 643.2L1796.9 641.9L1797.6 644.1L1798.2 644.7L1798.9 647.0L1799.5 644.8L1800.2 640.5L1800.8 642.4L1801.5 644.6L1802.1 644.4L1802.8 642.0L1803.4 644.5L1804.1 644.3L1804.7 644.9L1805.4 645.0L1806.0 646.5L1806.7 647.4L1807.3 646.5L1808.0 644.3L1808.6 644.8L1809.3 645.2L1809.9 646.2L1810.6 645.8L1811.2 646.1L1811.9 645.5L1812.5 648.1L1813.2 648.1L1813.8 648.4L1814.5 647.2L1815.1 648.0L1815.8 646.4L1816.4 646.4L1817.1 647.1L1817.7 648.7L1818.4 647.9L1819.0 646.8L1819.7 648.5L1820.3 649.1L1821.0 648.9L1821.6 647.9L1822.3 649.0L1822.9 648.5L1823.6 648.7L1824.2 649.2L1824.9 650.4L1825.5 651.9L1826.2 651.7L1826.8 650.6L1827.5 649.4L1828.1 649.6L1828.8 649.8L1829.4 651.8L1830.1 646.8L1830.7 650.9L1831.4 648.1L1832.0 650.8L1832.7 652.6L1833.3 649.8L1834.0 648.2L1834.6 652.9L1835.3 653.3L1835.9 652.1L1836.6 653.2L1837.2 650.7L1837.9 653.4L1838.5 654.2L1839.2 652.9L1839.8 652.6L1840.5 654.0L1841.1 653.9L1841.8 651.6L1842.4 654.4L1843.1 653.8L1843.7 653.1L1844.4 654.7L1845.0 654.4L1845.7 654.3L1846.3 652.8L1847.0 654.6L1847.6 652.2L1848.3 653.6L1848.9 651.7L1849.6 651.9L1850.2 654.7L1850.9 654.2L1851.5 654.5L1852.2 655.3L1852.8 655.1L1853.5 653.7L1854.1 655.0L1854.8 655.0L1855.4 654.5L1856.1 655.2L1856.7 655.0L1857.4 654.8L1858.0 655.3L1858.7 656.2L1859.3 658.7L1860.0 655.1L1860.6 657.0L1861.3 654.6L1861.9 658.6L1862.6 656.3L1863.2 657.1L1863.9 658.7L1864.5 658.4L1865.2 655.4L1865.8 658.2L1866.5 657.4L1867.1 658.6L1867.8 658.2L1868.4 659.1L1869.1 658.7L1869.7 658.4L1870.4 660.2L1871.0 656.9L1871.7 658.5L1872.3 658.1L1873.0 659.3L1873.6 659.1L1874.3 659.6L1874.9 659.4L1875.6 659.6L1876.2 658.3L1876.9 660.5L1877.5 661.1L1878.2 660.2L1878.8 660.3L1879.5 660.5L1880.1 663.5L1880.8 661.8L1881.4 662.2L1882.1 661.5L1882.7 661.4L1883.4 661.1L1884.0 664.2L1884.7 660.3L1885.3 662.9L1886.0 662.7L1886.6 662.5L1887.3 661.0L1887.9 661.5L1888.6 664.4L1889.2 662.4L1889.9 664.5L1890.5 664.3L1891.2 664.3L1891.8 664.7L1892.5 662.3L1893.1 663.3L1893.8 664.9L1894.4 662.6L1895.1 666.3L1895.7 663.7L1896.4 664.4L1897.0 663.3L1897.7 665.1L1898.3 663.8L1899.0 664.5L1899.6 663.5L1900.3 666.5L1900.9 663.1L1901.6 665.8L1902.2 665.6L1902.9 665.9L1903.5 664.2L1904.2 666.9L1904.8 666.9L1905.5 666.0L1906.1 666.2L1906.8 665.7L1907.4 666.8L1908.1 665.1L1908.7 666.9L1909.4 666.8L1910.0 664.6L1910.7 663.2L1911.3 666.4L1912.0 666.4L1912.6 668.2L1913.3 666.9L1913.9 666.3L1914.6 665.3L1915.2 667.0L1915.9 666.4L1916.5 665.9L1917.2 667.2L1917.8 668.7L1918.5 667.6L1919.1 666.3L1919.8 668.1L1920.4 666.4L1921.1 665.9L1921.7 668.6L1922.4 667.4L1923.0 669.5L1923.7 668.6L1924.3 667.4L1925.0 668.7L1925.6 670.1L1926.3 668.4L1926.9 667.5L1927.6 668.0L1928.2 668.0L1928.9 667.6L1929.5 667.6L1930.2 669.8L1930.8 670.7L1931.5 669.0L1932.1 670.5L1932.8 670.8L1933.4 671.8L1934.1 669.7L1934.7 669.6L1935.4 670.6L1936.0 670.3L1936.7 670.7L1937.3 672.0L1938.0 670.0L1938.6 670.9L1939.3 669.6L1939.9 670.7L1940.6 670.2L1941.2 670.2L1941.9 670.9L1942.5 670.8L1943.2 671.9L1943.8 672.5L1944.5 669.8L1945.1 673.0L1945.8 669.2L1946.4 672.3L1947.1 672.9L1947.7 671.4L1948.4 672.0L1949.0 671.5L1949.7 673.6L1950.3 668.8L1951.0 671.6L1951.6 670.5L1952.3 673.2L1952.9 674.6L1953.6 674.6L1954.2 674.1L1954.9 673.7L1955.5 672.6L1956.2 675.1L1956.8 674.5L1957.5 672.8L1958.1 672.4L1958.8 673.3L1959.4 675.5L1960.1 675.8L1960.7 676.3L1961.4 673.6L1962.0 674.2L1962.7 676.4L1963.3 675.1L1964.0 675.8L1964.6 673.4L1965.3 674.7L1965.9 675.2L1966.6 674.9L1967.2 675.0L1967.9 673.6L1968.5 677.6L1969.2 675.9L1969.8 674.1L1970.5 677.3L1971.1 676.2L1971.8 677.0L1972.4 676.1L1973.1 675.5L1973.7 675.6L1974.4 677.0L1975.0 677.6L1975.7 677.4L1976.3 677.7L1977.0 678.5L1977.6 677.5L1978.3 678.4L1978.9 678.7L1979.6 677.8L1980.2 677.5L1980.9 677.1L1981.5 676.3L1982.2 676.0L1982.8 679.5L1983.5 678.1L1984.1 677.5L1984.8 680.2L1985.4 679.5L1986.1 678.6L1986.7 679.8L1987.4 678.5L1988.0 679.2L1988.7 681.1L1989.3 680.3L1990.0 678.8L1990.6 680.0L1991.3 680.7L1991.9 679.3L1992.6 679.0L1993.2 681.8L1993.9 679.4L1994.5 678.3L1995.2 680.1L1995.8 682.7L1996.5 680.9L1997.1 681.4L1997.8 677.8L1998.4 679.8L1999.1 682.0L1999.7 680.2L2000.4 682.3L2001.0 681.4L2001.7 681.4L2002.3 683.0L2003.0 680.6L2003.6 680.7L2004.3 681.5L2004.9 681.7L2005.6 679.6L2006.2 683.1L2006.9 682.0L2007.5 681.6L2008.2 682.7L2008.8 681.6L2009.5 683.5L2010.1 682.3L2010.8 683.1L2011.4 681.3L2012.1 682.1L2012.7 683.0L2013.4 681.5L2014.0 682.0L2014.7 682.7L2015.3 684.2L2016.0 683.9L2016.6 684.1L2017.3 683.5L2017.9 684.3L2018.6 685.1L2019.2 683.6L2019.9 684.0L2020.5 684.2L2021.2 681.3L2021.8 683.6L2022.5 684.3L2023.1 684.8L2023.8 683.6L2024.4 685.2L2025.1 683.4L2025.7 684.0L2026.4 686.2L2027.0 682.8L2027.7 684.3L2028.3 684.3L2029.0 684.5L2029.6 684.0L2030.3 685.5L2030.9 683.6L2031.6 683.3L2032.2 685.5L2032.9 683.6L2033.5 685.5L2034.2 685.2L2034.8 684.5L2035.5 684.9L2036.1 685.3L2036.8 686.0L2037.4 684.8L2038.1 685.4L2038.7 684.0L2039.4 685.4L2040.0 683.6L2040.7 685.8L2041.3 685.4L2042.0 688.4L2042.6 687.6L2043.3 686.0L2043.9 687.3L2044.6 686.6L2045.2 685.1L2045.9 683.7L2046.5 687.8L2047.2 687.0L2047.8 684.4L2048.5 687.5L2049.1 687.8L2049.8 686.1L2050.4 687.8L2051.1 685.0L2051.7 686.8L2052.4 687.2L2053.0 688.1L2053.7 687.7L2054.3 687.6L2055.0 688.1L2055.6 686.7L2056.3 689.3L2056.9 687.2L2057.6 688.6L2058.2 687.8L2058.9 687.6L2059.5 688.6L2060.2 688.5L2060.8 689.6L2061.5 689.3L2062.1 687.5L2062.8 688.8L2063.4 688.4L2064.1 687.5L2064.7 687.2L2065.4 688.8L2066.0 688.0L2066.7 687.1L2067.3 688.6L2068.0 689.0L2068.6 689.0L2069.3 687.5L2069.9 688.3L2070.6 690.6L2071.2 688.2L2071.9 688.8L2072.5 691.9L2073.2 689.7L2073.8 688.8L2074.5 687.2L2075.1 689.8L2075.8 687.9L2076.4 689.6L2077.1 688.7L2077.7 687.8L2078.4 691.7L2079.0 689.7L2079.7 690.9L2080.3 690.8L2081.0 689.2L2081.6 690.2L2082.3 689.7L2082.9 691.3L2083.6 690.8L2084.2 689.9L2084.9 692.3L2085.5 691.0L2086.2 691.0L2086.8 689.7L2087.5 691.1L2088.1 689.0L2088.8 691.3L2089.4 689.8L2090.1 691.1L2090.7 690.6L2091.4 691.3L2092.0 691.5L2092.7 691.1L2093.3 691.2L2094.0 689.6L2094.6 689.2L2095.3 692.8L2095.9 692.1L2096.6 689.9L2097.2 693.8L2097.9 690.9L2098.5 692.3L2099.2 692.3L2099.8 692.0L2100.5 692.6L2101.1 690.5L2101.8 692.1L2102.4 691.9L2103.1 692.3L2103.7 692.0L2104.4 691.7L2105.0 691.6L2105.7 693.5L2106.3 691.6L2107.0 693.1L2107.6 693.1L2108.3 692.7L2108.9 693.4L2109.6 693.6L2110.2 692.4L2110.9 693.5L2111.5 695.3L2112.2 692.1L2112.8 693.0L2113.5 692.6L2114.1 695.7L2114.8 692.0L2115.4 693.7L2116.1 694.8L2116.7 692.8L2117.4 693.7L2118.0 693.2L2118.7 692.5L2119.3 694.0L2120.0 694.8L2120.6 693.8L2121.3 694.5L2121.9 695.2L2122.6 695.9L2123.2 693.2L2123.9 695.4L2124.5 694.1L2125.2 692.7L2125.8 694.1L2126.5 695.7L2127.1 695.4L2127.8 693.9L2128.4 697.1L2129.1 695.8L2129.7 695.3L2130.4 694.9L2131.0 696.1L2131.7 695.2L2132.3 697.0L2133.0 696.2L2133.6 696.6L2134.3 695.7L2134.9 694.5L2135.6 696.8L2136.2 695.1L2136.9 696.2L2137.5 696.4" fill="none" stroke="#000" stroke-width="1.6" stroke-dasharray="20 7 5 7"/>
<rect x="259.2" y="40.6" width="1880.6" height="1380.6" fill="none" stroke="#000" stroke-width="4.4"/>
<g stroke="#000" stroke-width="4.2"><line x1="357.0" y1="1403.5" x2="357.0" y2="1421" /><line x1="519.0" y1="1390.5" x2="519.0" y2="1421" /><line x1="681.0" y1="1403.5" x2="681.0" y2="1421" /><line x1="843.1" y1="1390.5" x2="843.1" y2="1421" /><line x1="1005.1" y1="1403.5" x2="1005.1" y2="1421" /><line x1="1167.2" y1="1390.5" x2="1167.2" y2="1421" /><line x1="1329.2" y1="1403.5" x2="1329.2" y2="1421" /><line x1="1491.3" y1="1390.5" x2="1491.3" y2="1421" /><line x1="1653.3" y1="1403.5" x2="1653.3" y2="1421" /><line x1="1815.4" y1="1390.5" x2="1815.4" y2="1421" /><line x1="1977.4" y1="1403.5" x2="1977.4" y2="1421" /></g>
<text transform="matrix(1.0431,0.0000,0.0000,1.0326,482.3845,1501.8000)" font-family="Liberation Serif, serif" font-weight="bold" font-size="66" fill="#000">10</text><text transform="matrix(1.0400,0.0000,0.0000,1.0326,806.3800,1501.8000)" font-family="Liberation Serif, serif" font-weight="bold" font-size="66" fill="#000">20</text><text transform="matrix(1.0550,0.0000,0.0000,1.0326,1130.6350,1501.8000)" font-family="Liberation Serif, serif" font-weight="bold" font-size="66" fill="#000">30</text><text transform="matrix(0.9919,0.0000,0.0000,1.0186,1458.2081,1501.4000)" font-family="Liberation Serif, serif" font-weight="bold" font-size="66" fill="#000">40</text><text transform="matrix(1.0333,0.0000,0.0000,1.0186,1779.9000,1501.4000)" font-family="Liberation Serif, serif" font-weight="bold" font-size="66" fill="#000">50</text><text transform="matrix(0.9721,0.0000,0.0000,1.0186,2105.1557,1501.4000)" font-family="Liberation Serif, serif" font-weight="bold" font-size="66" fill="#000">60</text><text transform="matrix(0.0000,-0.9926,1.0014,0.0000,111.7000,1144.0705)" font-family="Liberation Serif, serif" font-weight="bold" font-size="110" fill="#000">Intensity <tspan font-size="112.3" dy="5.8">[</tspan><tspan dy="-5.8">a.u.</tspan><tspan font-size="112.3" dy="5.8">]</tspan></text><text transform="matrix(0.9730,0.0000,0.0000,0.9795,993.7348,1642.8000)" font-family="Liberation Serif, serif" font-weight="bold" font-size="110" fill="#000">2<tspan font-size="100">θ</tspan> <tspan font-size="116" dy="6.6">[</tspan><tspan dy="-6.6">degree</tspan><tspan font-size="116" dy="6.6">]</tspan></text><text transform="matrix(0.9862,0.0000,0.0000,0.9553,385.1276,143.8000)" font-family="Liberation Serif, serif" font-weight="bold" font-size="56" fill="#000">(004)/(103)</text><text transform="matrix(0.9796,0.0000,0.0000,0.9316,385.6817,207.9000)" font-family="Liberation Serif, serif" font-weight="bold" font-size="56" fill="#000">10.4</text><text transform="matrix(1.0467,0.0000,0.0000,1.0687,493.2533,192.1000)" font-family="Liberation Serif, serif" font-weight="bold" font-size="34" fill="#000">o</text><text transform="matrix(0.9964,0.0000,0.0000,0.9211,612.3072,318.2000)" font-family="Liberation Serif, serif" font-weight="bold" font-size="56" fill="#000">(200)/(110)</text><text transform="matrix(1.0022,0.0000,0.0000,0.9605,611.6913,383.6000)" font-family="Liberation Serif, serif" font-weight="bold" font-size="56" fill="#000">16.3</text><text transform="matrix(0.9533,0.0000,0.0000,1.0750,721.1467,367.9000)" font-family="Liberation Serif, serif" font-weight="bold" font-size="34" fill="#000">o</text><text transform="matrix(0.9771,0.0000,0.0000,1.0136,1212.3458,205.8000)" font-family="Liberation Serif, serif" font-size="68" fill="#000">Neat PLA</text><text transform="matrix(0.9800,0.0000,0.0000,1.0136,1212.7400,287.8000)" font-family="Liberation Serif, serif" font-size="68" fill="#000">PLA/AGO 1 wt.%</text><text transform="matrix(0.9761,0.0000,0.0000,0.9723,1212.7477,370.0000)" font-family="Liberation Serif, serif" font-size="68" fill="#000">PLA/AGO 1 wt.%_Isothermally</text><text transform="matrix(0.9677,0.0000,0.0000,0.9894,1761.2968,455.5000)" font-family="Liberation Serif, serif" font-size="68" fill="#000">crystallized</text>
<g>
<line x1="1047.8" y1="183.6" x2="1197" y2="183.6" stroke="#000" stroke-width="2.3" stroke-dasharray="10 6.5 2.5 6.5"/>
<line x1="1047.8" y1="268.6" x2="1186" y2="268.6" stroke="#ff9020" stroke-width="2.8" stroke-dasharray="10 10.2"/>
<line x1="1047.8" y1="350.8" x2="1198.8" y2="350.8" stroke="#00ff20" stroke-width="3.5"/>
</g>
</svg></body></html>
